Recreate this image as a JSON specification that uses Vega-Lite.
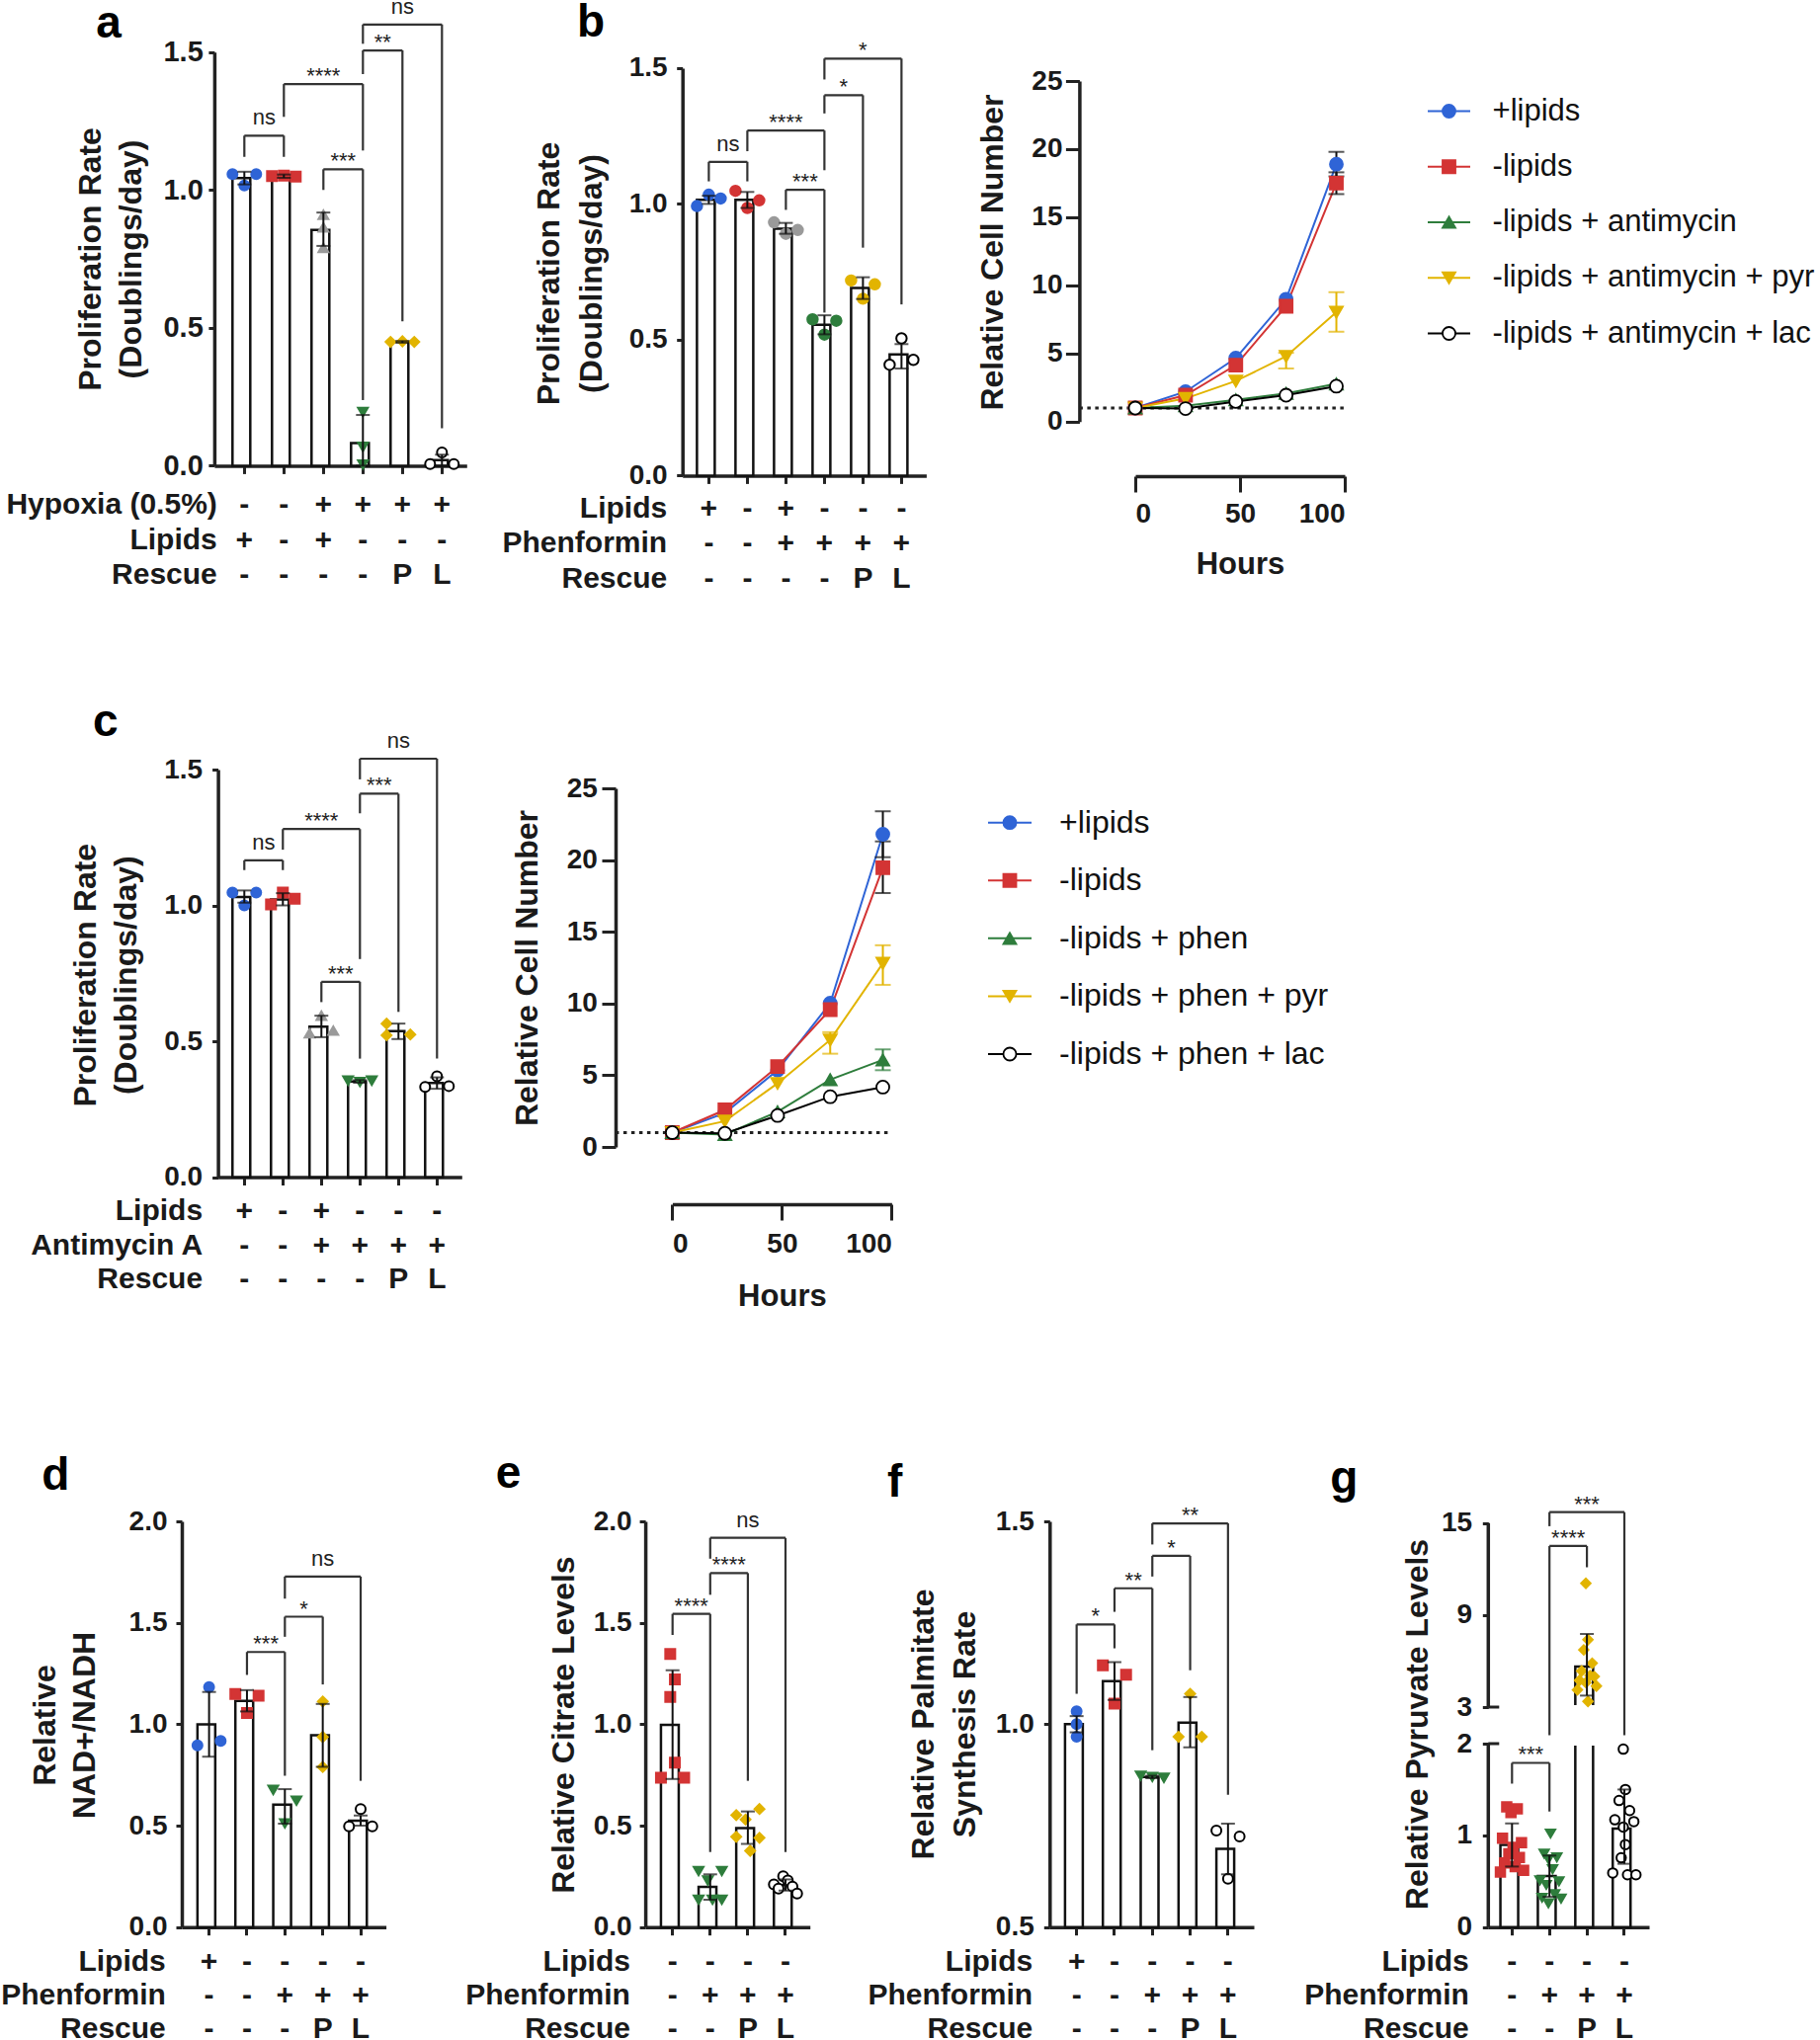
{
"$schema": "https://vega.github.io/schema/vega-lite/v6.json",
"padding": {"left": 0, "top": -5, "right": 0, "bottom": 0},
"background": "white",
"columns": 4,
"bounds": "flush",
"align": "each",
"spacing": {"row": 280, "column": 0},
"resolve": {"scale": {"color": "independent", "fill": "independent", "stroke": "independent", "shape": "independent", "xOffset": "independent"}},
"config": {
  "view": {"stroke": null},
  "font": "Liberation Sans",
  "axis": {"grid": false, "domainColor": "#222222", "domainWidth": 3.5, "tickColor": "#222222", "tickWidth": 3, "labelColor": "#1a1a1a", "titleColor": "#1a1a1a", "labelFontWeight": "bold", "titleFontWeight": "bold", "labelLimit": 0, "titleLimit": 0}
},
"datasets": {
  "a_bars": [
    {"grp": "- + -", "mean": 1.043, "lo": 1.02, "hi": 1.066},
    {"grp": "- - -", "mean": 1.05, "lo": 1.044, "hi": 1.056},
    {"grp": "+ + -", "mean": 0.855, "lo": 0.797, "hi": 0.918},
    {"grp": "+ - -", "mean": 0.082, "lo": 0, "hi": 0.184},
    {"grp": "+ - P", "mean": 0.449, "lo": 0.446, "hi": 0.452},
    {"grp": "+ - L", "mean": 0.02, "lo": 0, "hi": 0.04}
  ],
  "a_pts": [
    {"grp": "- + -", "rep": 1, "v": 1.057}, {"grp": "- + -", "rep": 2, "v": 1.016}, {"grp": "- + -", "rep": 3, "v": 1.057},
    {"grp": "- - -", "rep": 1, "v": 1.05}, {"grp": "- - -", "rep": 2, "v": 1.052}, {"grp": "- - -", "rep": 3, "v": 1.048},
    {"grp": "+ + -", "rep": 2, "v": 0.91}, {"grp": "+ + -", "rep": 2, "v": 0.864}, {"grp": "+ + -", "rep": 2, "v": 0.79},
    {"grp": "+ - -", "rep": 2, "v": 0.195}, {"grp": "+ - -", "rep": 2, "v": 0.068}, {"grp": "+ - -", "rep": 2, "v": 0.004},
    {"grp": "+ - P", "rep": 1, "v": 0.449}, {"grp": "+ - P", "rep": 2, "v": 0.451}, {"grp": "+ - P", "rep": 3, "v": 0.449},
    {"grp": "+ - L", "rep": 2, "v": 0.048}, {"grp": "+ - L", "rep": 1, "v": 0.006}, {"grp": "+ - L", "rep": 3, "v": 0.006}
  ],
  "a_br": [
    {"from": "- + -", "to": "- - -", "top": 1.197, "lf": 1.12, "rf": 1.12, "lab": "ns", "at": "- + -", "mid": 1},
    {"from": "- - -", "to": "+ - -", "top": 1.384, "lf": 1.265, "rf": 1.143, "lab": "****", "at": "+ + -", "mid": 0},
    {"from": "+ + -", "to": "+ - -", "top": 1.075, "lf": 1.0, "rf": 0.238, "lab": "***", "at": "+ + -", "mid": 1},
    {"from": "+ - -", "to": "+ - P", "top": 1.506, "lf": 1.42, "rf": 0.524, "lab": "**", "at": "+ - -", "mid": 1},
    {"from": "+ - -", "to": "+ - L", "top": 1.6, "lf": 1.53, "rf": 0.136, "lab": "ns", "at": "+ - P", "mid": 0}
  ],
  "b_bars": [
    {"grp": "+ - -", "mean": 1.015, "lo": 1.0, "hi": 1.03},
    {"grp": "- - -", "mean": 1.015, "lo": 0.985, "hi": 1.044},
    {"grp": "+ + -", "mean": 0.909, "lo": 0.89, "hi": 0.93},
    {"grp": "- + -", "mean": 0.555, "lo": 0.52, "hi": 0.59},
    {"grp": "- + P", "mean": 0.691, "lo": 0.65, "hi": 0.73},
    {"grp": "- + L", "mean": 0.446, "lo": 0.394, "hi": 0.484}
  ],
  "b_pts": [
    {"grp": "+ - -", "rep": 1, "v": 0.992}, {"grp": "+ - -", "rep": 2, "v": 1.034}, {"grp": "+ - -", "rep": 3, "v": 1.02},
    {"grp": "- - -", "rep": 1, "v": 1.048}, {"grp": "- - -", "rep": 2, "v": 0.985}, {"grp": "- - -", "rep": 3, "v": 1.013},
    {"grp": "+ + -", "rep": 1, "v": 0.932}, {"grp": "+ + -", "rep": 2, "v": 0.89}, {"grp": "+ + -", "rep": 3, "v": 0.904},
    {"grp": "- + -", "rep": 1, "v": 0.575}, {"grp": "- + -", "rep": 2, "v": 0.519}, {"grp": "- + -", "rep": 3, "v": 0.57},
    {"grp": "- + P", "rep": 1, "v": 0.718}, {"grp": "- + P", "rep": 2, "v": 0.651}, {"grp": "- + P", "rep": 3, "v": 0.704},
    {"grp": "- + L", "rep": 2, "v": 0.505}, {"grp": "- + L", "rep": 1, "v": 0.408}, {"grp": "- + L", "rep": 3, "v": 0.426}
  ],
  "b_br": [
    {"from": "+ - -", "to": "- - -", "top": 1.155, "lf": 1.083, "rf": 1.083, "lab": "ns", "at": "+ - -", "mid": 1},
    {"from": "- - -", "to": "- + -", "top": 1.27, "lf": 1.194, "rf": 1.124, "lab": "****", "at": "+ + -", "mid": 0},
    {"from": "+ + -", "to": "- + -", "top": 1.052, "lf": 0.978, "rf": 0.6, "lab": "***", "at": "+ + -", "mid": 1},
    {"from": "- + -", "to": "- + P", "top": 1.4, "lf": 1.333, "rf": 0.839, "lab": "*", "at": "- + -", "mid": 1},
    {"from": "- + -", "to": "- + L", "top": 1.535, "lf": 1.458, "rf": 0.63, "lab": "*", "at": "- + P", "mid": 0}
  ],
  "c_bars": [
    {"grp": "+ - -", "mean": 1.031, "lo": 1.01, "hi": 1.055},
    {"grp": "- - -", "mean": 1.022, "lo": 1.0, "hi": 1.045},
    {"grp": "+ + -", "mean": 0.554, "lo": 0.515, "hi": 0.594},
    {"grp": "- + -", "mean": 0.352, "lo": 0.347, "hi": 0.357},
    {"grp": "- + P", "mean": 0.537, "lo": 0.508, "hi": 0.565},
    {"grp": "- + L", "mean": 0.346, "lo": 0.325, "hi": 0.367}
  ],
  "c_pts": [
    {"grp": "+ - -", "rep": 1, "v": 1.047}, {"grp": "+ - -", "rep": 2, "v": 1.0}, {"grp": "+ - -", "rep": 3, "v": 1.047},
    {"grp": "- - -", "rep": 1, "v": 1.004}, {"grp": "- - -", "rep": 2, "v": 1.047}, {"grp": "- - -", "rep": 3, "v": 1.025},
    {"grp": "+ + -", "rep": 1, "v": 0.529}, {"grp": "+ + -", "rep": 2, "v": 0.594}, {"grp": "+ + -", "rep": 3, "v": 0.539},
    {"grp": "- + -", "rep": 1, "v": 0.355}, {"grp": "- + -", "rep": 2, "v": 0.35}, {"grp": "- + -", "rep": 3, "v": 0.355},
    {"grp": "- + P", "rep": 1, "v": 0.565}, {"grp": "- + P", "rep": 1, "v": 0.522}, {"grp": "- + P", "rep": 3, "v": 0.525},
    {"grp": "- + L", "rep": 1, "v": 0.332}, {"grp": "- + L", "rep": 2, "v": 0.371}, {"grp": "- + L", "rep": 3, "v": 0.335}
  ],
  "c_br": [
    {"from": "+ - -", "to": "- - -", "top": 1.166, "lf": 1.13, "rf": 1.13, "lab": "ns", "at": "+ - -", "mid": 1},
    {"from": "- - -", "to": "- + -", "top": 1.281, "lf": 1.205, "rf": 0.8025, "lab": "****", "at": "+ + -", "mid": 0},
    {"from": "+ + -", "to": "- + -", "top": 0.719, "lf": 0.644, "rf": 0.436, "lab": "***", "at": "+ + -", "mid": 1},
    {"from": "- + -", "to": "- + P", "top": 1.411, "lf": 1.339, "rf": 0.608, "lab": "***", "at": "- + -", "mid": 1},
    {"from": "- + -", "to": "- + L", "top": 1.54, "lf": 1.464, "rf": 0.436, "lab": "ns", "at": "- + P", "mid": 0}
  ],
  "d_bars": [
    {"grp": "+ - -", "mean": 0.999, "lo": 0.84, "hi": 1.159},
    {"grp": "- - -", "mean": 1.115, "lo": 1.063, "hi": 1.168},
    {"grp": "- + -", "mean": 0.603, "lo": 0.51, "hi": 0.68},
    {"grp": "- + P", "mean": 0.946, "lo": 0.79, "hi": 1.1},
    {"grp": "- + L", "mean": 0.525, "lo": 0.5, "hi": 0.55}
  ],
  "d_pts": [
    {"grp": "+ - -", "rep": 2, "v": 1.183}, {"grp": "+ - -", "rep": 1, "v": 0.896}, {"grp": "+ - -", "rep": 3, "v": 0.918},
    {"grp": "- - -", "rep": 1, "v": 1.149}, {"grp": "- - -", "rep": 3, "v": 1.14}, {"grp": "- - -", "rep": 2, "v": 1.055},
    {"grp": "- + -", "rep": 1, "v": 0.676}, {"grp": "- + -", "rep": 3, "v": 0.623}, {"grp": "- + -", "rep": 2, "v": 0.511},
    {"grp": "- + P", "rep": 2, "v": 1.112}, {"grp": "- + P", "rep": 2, "v": 0.937}, {"grp": "- + P", "rep": 2, "v": 0.789},
    {"grp": "- + L", "rep": 2, "v": 0.582}, {"grp": "- + L", "rep": 1, "v": 0.496}, {"grp": "- + L", "rep": 3, "v": 0.496}
  ],
  "d_br": [
    {"from": "- - -", "to": "- + -", "top": 1.356, "lf": 1.243, "rf": 0.746, "lab": "***", "at": "- - -", "mid": 1},
    {"from": "- + -", "to": "- + P", "top": 1.53, "lf": 1.431, "rf": 1.196, "lab": "*", "at": "- + -", "mid": 1},
    {"from": "- + -", "to": "- + L", "top": 1.728, "lf": 1.619, "rf": 0.721, "lab": "ns", "at": "- + P", "mid": 0}
  ],
  "e_bars": [
    {"grp": "- - -", "mean": 0.997, "lo": 0.73, "hi": 1.266},
    {"grp": "- + -", "mean": 0.198, "lo": 0.135, "hi": 0.26},
    {"grp": "- + P", "mean": 0.4875, "lo": 0.41, "hi": 0.57},
    {"grp": "- + L", "mean": 0.207, "lo": 0.18, "hi": 0.235}
  ],
  "e_pts": [
    {"grp": "- - -", "rep": 3, "v": 1.346}, {"grp": "- - -", "rep": 4, "v": 1.221}, {"grp": "- - -", "rep": 3, "v": 1.134},
    {"grp": "- - -", "rep": 4, "v": 0.811}, {"grp": "- - -", "rep": 1, "v": 0.736}, {"grp": "- - -", "rep": 6, "v": 0.736},
    {"grp": "- + -", "rep": 1, "v": 0.276}, {"grp": "- + -", "rep": 6, "v": 0.276}, {"grp": "- + -", "rep": 3, "v": 0.229},
    {"grp": "- + -", "rep": 1, "v": 0.135}, {"grp": "- + -", "rep": 4, "v": 0.135}, {"grp": "- + -", "rep": 6, "v": 0.135},
    {"grp": "- + P", "rep": 6, "v": 0.582}, {"grp": "- + P", "rep": 1, "v": 0.552}, {"grp": "- + P", "rep": 3, "v": 0.53},
    {"grp": "- + P", "rep": 1, "v": 0.445}, {"grp": "- + P", "rep": 6, "v": 0.44}, {"grp": "- + P", "rep": 4, "v": 0.376},
    {"grp": "- + L", "rep": 3, "v": 0.25}, {"grp": "- + L", "rep": 4, "v": 0.23}, {"grp": "- + L", "rep": 1, "v": 0.21},
    {"grp": "- + L", "rep": 5, "v": 0.2}, {"grp": "- + L", "rep": 2, "v": 0.19}, {"grp": "- + L", "rep": 6, "v": 0.165}
  ],
  "e_br": [
    {"from": "- - -", "to": "- + -", "top": 1.544, "lf": 1.44, "rf": 0.37, "lab": "****", "at": "- - -", "mid": 1},
    {"from": "- + -", "to": "- + P", "top": 1.745, "lf": 1.638, "rf": 0.721, "lab": "****", "at": "- + -", "mid": 1},
    {"from": "- + -", "to": "- + L", "top": 1.919, "lf": 1.816, "rf": 0.37, "lab": "ns", "at": "- + P", "mid": 0}
  ],
  "f_bars": [
    {"grp": "+ - -", "mean": 1.0, "lo": 0.98, "hi": 1.02},
    {"grp": "- - -", "mean": 1.106, "lo": 1.06, "hi": 1.153},
    {"grp": "- + -", "mean": 0.87, "lo": 0.867, "hi": 0.873},
    {"grp": "- + P", "mean": 1.004, "lo": 0.943, "hi": 1.067},
    {"grp": "- + L", "mean": 0.693, "lo": 0.63, "hi": 0.755}
  ],
  "f_pts": [
    {"grp": "+ - -", "rep": 2, "v": 1.032}, {"grp": "+ - -", "rep": 2, "v": 1.0}, {"grp": "+ - -", "rep": 2, "v": 0.969},
    {"grp": "- - -", "rep": 1, "v": 1.145}, {"grp": "- - -", "rep": 3, "v": 1.122}, {"grp": "- - -", "rep": 2, "v": 1.051},
    {"grp": "- + -", "rep": 1, "v": 0.873}, {"grp": "- + -", "rep": 2, "v": 0.87}, {"grp": "- + -", "rep": 3, "v": 0.868},
    {"grp": "- + P", "rep": 2, "v": 1.075}, {"grp": "- + P", "rep": 1, "v": 0.969}, {"grp": "- + P", "rep": 3, "v": 0.969},
    {"grp": "- + L", "rep": 1, "v": 0.738}, {"grp": "- + L", "rep": 3, "v": 0.723}, {"grp": "- + L", "rep": 2, "v": 0.619}
  ],
  "f_br": [
    {"from": "+ - -", "to": "- - -", "top": 1.246, "lf": 1.075, "rf": 1.187, "lab": "*", "at": "+ - -", "mid": 1},
    {"from": "- - -", "to": "- + -", "top": 1.335, "lf": 1.277, "rf": 0.936, "lab": "**", "at": "- - -", "mid": 1},
    {"from": "- + -", "to": "- + P", "top": 1.415, "lf": 1.364, "rf": 1.133, "lab": "*", "at": "- + -", "mid": 1},
    {"from": "- + -", "to": "- + L", "top": 1.495, "lf": 1.443, "rf": 0.826, "lab": "**", "at": "- + P", "mid": 0}
  ],
  "g_bars": [
    {"grp": "- - -", "mean": 0.896, "lo": 0.66, "hi": 1.13},
    {"grp": "- + -", "mean": 0.556, "lo": 0.33, "hi": 0.78},
    {"grp": "- + P", "mean": 5.64, "lo": 3.75, "hi": 7.77},
    {"grp": "- + L", "mean": 1.074, "lo": 0.69, "hi": 1.5}
  ],
  "g_pts": [
    {"grp": "- - -", "rep": 4, "v": 1.31}, {"grp": "- - -", "rep": 9, "v": 1.29}, {"grp": "- - -", "rep": 6, "v": 1.25},
    {"grp": "- - -", "rep": 2, "v": 0.97}, {"grp": "- - -", "rep": 11, "v": 0.92}, {"grp": "- - -", "rep": 7, "v": 0.87},
    {"grp": "- - -", "rep": 5, "v": 0.8}, {"grp": "- - -", "rep": 10, "v": 0.76}, {"grp": "- - -", "rep": 3, "v": 0.7},
    {"grp": "- - -", "rep": 8, "v": 0.66}, {"grp": "- - -", "rep": 12, "v": 0.62}, {"grp": "- - -", "rep": 1, "v": 0.6},
    {"grp": "- + -", "rep": 7, "v": 1.02}, {"grp": "- + -", "rep": 4, "v": 0.8}, {"grp": "- + -", "rep": 10, "v": 0.76},
    {"grp": "- + -", "rep": 6, "v": 0.74}, {"grp": "- + -", "rep": 8, "v": 0.63}, {"grp": "- + -", "rep": 2, "v": 0.51},
    {"grp": "- + -", "rep": 11, "v": 0.5}, {"grp": "- + -", "rep": 5, "v": 0.46}, {"grp": "- + -", "rep": 9, "v": 0.36},
    {"grp": "- + -", "rep": 3, "v": 0.32}, {"grp": "- + -", "rep": 12, "v": 0.31}, {"grp": "- + -", "rep": 6, "v": 0.26},
    {"grp": "- + P", "rep": 6, "v": 11.07}, {"grp": "- + P", "rep": 7, "v": 7.4}, {"grp": "- + P", "rep": 5, "v": 6.73},
    {"grp": "- + P", "rep": 9, "v": 5.86}, {"grp": "- + P", "rep": 4, "v": 5.36}, {"grp": "- + P", "rep": 8, "v": 5.06},
    {"grp": "- + P", "rep": 10, "v": 4.99}, {"grp": "- + P", "rep": 3, "v": 4.74}, {"grp": "- + P", "rep": 6, "v": 4.6},
    {"grp": "- + P", "rep": 11, "v": 4.37}, {"grp": "- + P", "rep": 2, "v": 4.12}, {"grp": "- + P", "rep": 7, "v": 3.37},
    {"grp": "- + L", "rep": 6, "v": 1.94}, {"grp": "- + L", "rep": 7, "v": 1.5}, {"grp": "- + L", "rep": 4, "v": 1.38},
    {"grp": "- + L", "rep": 9, "v": 1.27}, {"grp": "- + L", "rep": 2, "v": 1.17}, {"grp": "- + L", "rep": 11, "v": 1.15},
    {"grp": "- + L", "rep": 6, "v": 1.09}, {"grp": "- + L", "rep": 7, "v": 0.9}, {"grp": "- + L", "rep": 5, "v": 0.755},
    {"grp": "- + L", "rep": 1, "v": 0.59}, {"grp": "- + L", "rep": 8, "v": 0.57}, {"grp": "- + L", "rep": 12, "v": 0.57}
  ],
  "g_br": [
    {"from": "- - -", "to": "- + -", "top": 1.79, "lf": 1.564, "rf": 1.26, "lab": "***", "at": "- - -", "mid": 1},
    {"from": "- + -", "to": "- + P", "top": 13.51, "lf": 2.23, "rf": 12.12, "lab": "****", "at": "- + -", "mid": 1},
    {"from": "- + -", "to": "- + L", "top": 15.72, "lf": 14.8, "rf": 2.23, "lab": "***", "at": "- + P", "mid": 0}
  ],
  "bl": [
    {"s": "+lipids", "h": 0, "v": 1.0}, {"s": "+lipids", "h": 24, "v": 2.2}, {"s": "+lipids", "h": 48, "v": 4.66}, {"s": "+lipids", "h": 72, "v": 8.99}, {"s": "+lipids", "h": 96, "v": 18.9},
    {"s": "-lipids", "h": 0, "v": 1.0}, {"s": "-lipids", "h": 24, "v": 1.94}, {"s": "-lipids", "h": 48, "v": 4.15}, {"s": "-lipids", "h": 72, "v": 8.47}, {"s": "-lipids", "h": 96, "v": 17.5},
    {"s": "-lipids + antimycin", "h": 0, "v": 1.0}, {"s": "-lipids + antimycin", "h": 24, "v": 1.17}, {"s": "-lipids + antimycin", "h": 48, "v": 1.6}, {"s": "-lipids + antimycin", "h": 72, "v": 2.07}, {"s": "-lipids + antimycin", "h": 96, "v": 2.77},
    {"s": "-lipids + antimycin + pyr", "h": 0, "v": 1.0}, {"s": "-lipids + antimycin + pyr", "h": 24, "v": 1.7}, {"s": "-lipids + antimycin + pyr", "h": 48, "v": 2.98}, {"s": "-lipids + antimycin + pyr", "h": 72, "v": 4.79}, {"s": "-lipids + antimycin + pyr", "h": 96, "v": 8.03},
    {"s": "-lipids + antimycin + lac", "h": 0, "v": 1.0}, {"s": "-lipids + antimycin + lac", "h": 24, "v": 0.96}, {"s": "-lipids + antimycin + lac", "h": 48, "v": 1.48}, {"s": "-lipids + antimycin + lac", "h": 72, "v": 1.94}, {"s": "-lipids + antimycin + lac", "h": 96, "v": 2.6}
  ],
  "be": [
    {"s": "+lipids", "h": 96, "lo": 18.0, "hi": 19.8},
    {"s": "-lipids", "h": 96, "lo": 16.7, "hi": 18.3},
    {"s": "-lipids + antimycin + pyr", "h": 72, "lo": 3.9, "hi": 5.05},
    {"s": "-lipids + antimycin + pyr", "h": 96, "lo": 6.6, "hi": 9.5}
  ],
  "legb": [
    {"s": "+lipids"}, {"s": "-lipids"}, {"s": "-lipids + antimycin"}, {"s": "-lipids + antimycin + pyr"}, {"s": "-lipids + antimycin + lac"}
  ],
  "cl": [
    {"s": "+lipids", "h": 0, "v": 1.0}, {"s": "+lipids", "h": 24, "v": 2.37}, {"s": "+lipids", "h": 48, "v": 5.35}, {"s": "+lipids", "h": 72, "v": 10.02}, {"s": "+lipids", "h": 96, "v": 21.8},
    {"s": "-lipids", "h": 0, "v": 1.0}, {"s": "-lipids", "h": 24, "v": 2.58}, {"s": "-lipids", "h": 48, "v": 5.6}, {"s": "-lipids", "h": 72, "v": 9.57}, {"s": "-lipids", "h": 96, "v": 19.46},
    {"s": "-lipids + phen", "h": 0, "v": 1.0}, {"s": "-lipids + phen", "h": 24, "v": 0.87}, {"s": "-lipids + phen", "h": 48, "v": 2.45}, {"s": "-lipids + phen", "h": 72, "v": 4.69}, {"s": "-lipids + phen", "h": 96, "v": 6.07},
    {"s": "-lipids + phen + pyr", "h": 0, "v": 1.0}, {"s": "-lipids + phen + pyr", "h": 24, "v": 1.8}, {"s": "-lipids + phen + pyr", "h": 48, "v": 4.43}, {"s": "-lipids + phen + pyr", "h": 72, "v": 7.46}, {"s": "-lipids + phen + pyr", "h": 96, "v": 12.8},
    {"s": "-lipids + phen + lac", "h": 0, "v": 1.0}, {"s": "-lipids + phen + lac", "h": 24, "v": 0.95}, {"s": "-lipids + phen + lac", "h": 48, "v": 2.19}, {"s": "-lipids + phen + lac", "h": 72, "v": 3.5}, {"s": "-lipids + phen + lac", "h": 96, "v": 4.17}
  ],
  "ce": [
    {"s": "+lipids", "h": 96, "lo": 20.2, "hi": 23.4},
    {"s": "-lipids", "h": 96, "lo": 17.7, "hi": 21.3},
    {"s": "-lipids + phen", "h": 96, "lo": 5.35, "hi": 6.8},
    {"s": "-lipids + phen + pyr", "h": 72, "lo": 6.5, "hi": 8.0},
    {"s": "-lipids + phen + pyr", "h": 96, "lo": 11.3, "hi": 14.06}
  ],
  "legc": [
    {"s": "+lipids"}, {"s": "-lipids"}, {"s": "-lipids + phen"}, {"s": "-lipids + phen + pyr"}, {"s": "-lipids + phen + lac"}
  ]
},
"concat": [
{
  "width": 438.9, "height": 421.4,
  "title": {"text": "a", "anchor": "start", "frame": "group", "dx": -86.7, "offset": -88.5, "fontSize": 46, "fontWeight": "bold", "baseline": "alphabetic", "color": "#000000"},
  "layer": [
    {"data": {"name": "a_bars"}, "mark": {"type": "bar", "fill": "#ffffff", "stroke": "#111111", "strokeWidth": 2.5},
     "encoding": {
       "x": {"field": "grp", "type": "nominal", "scale": {"domain": ["- + -", "- - -", "+ + -", "+ - -", "+ - P", "+ - L"], "range": [32.9, 288.3], "paddingInner": 0.4, "paddingOuter": 0.3925, "align": 0.586},
             "axis": {"title": ["Hypoxia (0.5%)", "Lipids", "Rescue"], "labelExpr": "split(datum.label, ' ')", "labelAngle": 0, "labelFontSize": 30, "labelLineHeight": 35.5, "labelPadding": 16.4, "tickSize": 8, "titleX": 35.3, "titleY": 24.4, "titleAlign": "right", "titleBaseline": "top", "titleAngle": 0, "titleFontSize": 30, "titleLineHeight": 35.5}},
       "y": {"field": "mean", "type": "quantitative", "scale": {"domain": [0, 1.5], "range": [421.4, 2.7], "nice": false, "zero": false},
             "axis": {"offset": -32.9, "values": [0, 0.5, 1, 1.5], "format": ".1f", "labelFontSize": 29, "tickSize": 6, "labelPadding": 5.6, "title": ["Proliferation Rate", "(Doublings/day)"], "titleFontSize": 32, "titleLineHeight": 41, "titleX": -125.5, "titleY": 212, "titleBaseline": "middle", "titleAlign": "center", "titleAngle": -90}}}},
    {"data": {"name": "a_pts"}, "mark": {"type": "point", "size": 100, "strokeWidth": 2, "opacity": 1},
     "encoding": {
       "x": {"field": "grp", "type": "nominal", "scale": {"domain": ["- + -", "- - -", "+ + -", "+ - -", "+ - P", "+ - L"]}},
       "xOffset": {"field": "rep", "type": "nominal", "scale": {"domain": [1, 2, 3], "paddingInner": 0, "paddingOuter": 0}},
       "y": {"field": "v", "type": "quantitative", "scale": {"domain": [0, 1.5], "range": [421.4, 2.7], "nice": false, "zero": false}},
       "fill": {"field": "grp", "type": "nominal", "scale": {"domain": ["- + -", "- - -", "+ + -", "+ - -", "+ - P", "+ - L"], "range": ["#2f64d6", "#d33434", "#9a9a9a", "#2e7d3c", "#e2b400", "#ffffff"]}, "legend": null},
       "stroke": {"field": "grp", "type": "nominal", "scale": {"domain": ["- + -", "- - -", "+ + -", "+ - -", "+ - P", "+ - L"], "range": ["#2f64d6", "#d33434", "#9a9a9a", "#2e7d3c", "#e2b400", "#000000"]}, "legend": null},
       "shape": {"field": "grp", "type": "nominal", "scale": {"domain": ["- + -", "- - -", "+ + -", "+ - -", "+ - P", "+ - L"], "range": ["circle", "square", "triangle-up", "triangle-down", "diamond", "circle"]}, "legend": null}}},
    {"data": {"name": "a_bars"}, "mark": {"type": "rule", "color": "#111111", "strokeWidth": 2},
     "encoding": {"x": {"field": "grp", "type": "nominal", "scale": {"domain": ["- + -", "- - -", "+ + -", "+ - -", "+ - P", "+ - L"]}}, "y": {"field": "lo", "type": "quantitative", "scale": {"domain": [0, 1.5], "range": [421.4, 2.7], "nice": false, "zero": false}}, "y2": {"field": "hi"}}},
    {"data": {"name": "a_bars"}, "mark": {"type": "tick", "orient": "horizontal", "size": 14, "thickness": 2, "color": "#111111"},
     "encoding": {"x": {"field": "grp", "type": "nominal", "scale": {"domain": ["- + -", "- - -", "+ + -", "+ - -", "+ - P", "+ - L"]}}, "y": {"field": "lo", "type": "quantitative", "scale": {"domain": [0, 1.5], "range": [421.4, 2.7], "nice": false, "zero": false}}}},
    {"data": {"name": "a_bars"}, "mark": {"type": "tick", "orient": "horizontal", "size": 14, "thickness": 2, "color": "#111111"},
     "encoding": {"x": {"field": "grp", "type": "nominal", "scale": {"domain": ["- + -", "- - -", "+ + -", "+ - -", "+ - P", "+ - L"]}}, "y": {"field": "hi", "type": "quantitative", "scale": {"domain": [0, 1.5], "range": [421.4, 2.7], "nice": false, "zero": false}}}},
    {"data": {"name": "a_br"}, "mark": {"type": "rule", "color": "#333333", "strokeWidth": 2.2},
     "encoding": {"x": {"field": "from", "type": "nominal", "scale": {"domain": ["- + -", "- - -", "+ + -", "+ - -", "+ - P", "+ - L"]}}, "x2": {"field": "to"}, "y": {"field": "top", "type": "quantitative", "scale": {"domain": [0, 1.5], "range": [421.4, 2.7], "nice": false, "zero": false}}}},
    {"data": {"name": "a_br"}, "mark": {"type": "rule", "color": "#333333", "strokeWidth": 2.2},
     "encoding": {"x": {"field": "from", "type": "nominal", "scale": {"domain": ["- + -", "- - -", "+ + -", "+ - -", "+ - P", "+ - L"]}}, "y": {"field": "top", "type": "quantitative", "scale": {"domain": [0, 1.5], "range": [421.4, 2.7], "nice": false, "zero": false}}, "y2": {"field": "lf"}}},
    {"data": {"name": "a_br"}, "mark": {"type": "rule", "color": "#333333", "strokeWidth": 2.2},
     "encoding": {"x": {"field": "to", "type": "nominal", "scale": {"domain": ["- + -", "- - -", "+ + -", "+ - -", "+ - P", "+ - L"]}}, "y": {"field": "top", "type": "quantitative", "scale": {"domain": [0, 1.5], "range": [421.4, 2.7], "nice": false, "zero": false}}, "y2": {"field": "rf"}}},
    {"data": {"name": "a_br"}, "mark": {"type": "text", "fontSize": 22, "baseline": "alphabetic", "align": "center", "color": "#222222", "dx": {"expr": "datum.mid * 20"}, "dy": {"expr": "datum.lab == 'ns' ? -11 : -1"}},
     "encoding": {"x": {"field": "at", "type": "nominal", "scale": {"domain": ["- + -", "- - -", "+ + -", "+ - -", "+ - P", "+ - L"]}}, "y": {"field": "top", "type": "quantitative", "scale": {"domain": [0, 1.5], "range": [421.4, 2.7], "nice": false, "zero": false}}, "text": {"field": "lab"}}}
  ]
},
{
  "width": 376.4, "height": 431.4,
  "title": {"text": "b", "anchor": "start", "frame": "group", "dx": -38.9, "offset": -42.4, "fontSize": 46, "fontWeight": "bold", "baseline": "alphabetic", "color": "#000000"},
  "layer": [
    {"data": {"name": "b_bars"}, "mark": {"type": "bar", "fill": "#ffffff", "stroke": "#111111", "strokeWidth": 2.5},
     "encoding": {
       "x": {"field": "grp", "type": "nominal", "scale": {"domain": ["+ - -", "- - -", "+ + -", "- + -", "- + P", "- + L"], "range": [67.7, 314.4], "paddingInner": 0.3846, "paddingOuter": 0.355, "align": 0.53},
             "axis": {"title": ["Lipids", "Phenformin", "Rescue"], "labelExpr": "split(datum.label, ' ')", "labelAngle": 0, "labelFontSize": 30, "labelLineHeight": 35.4, "labelPadding": 10.2, "tickSize": 8, "titleX": 51.7, "titleY": 18.2, "titleAlign": "right", "titleBaseline": "top", "titleAngle": 0, "titleFontSize": 30, "titleLineHeight": 35.4}},
       "y": {"field": "mean", "type": "quantitative", "scale": {"domain": [0, 1.5], "range": [431.4, 18.9], "nice": false, "zero": false},
             "axis": {"offset": -67.7, "values": [0, 0.5, 1, 1.5], "format": ".1f", "labelFontSize": 28, "tickSize": 6, "labelPadding": 9.6, "title": ["Proliferation Rate", "(Doublings/day)"], "titleFontSize": 32, "titleLineHeight": 43, "titleX": -135.3, "titleY": 226.5, "titleBaseline": "middle", "titleAlign": "center", "titleAngle": -90}}}},
    {"data": {"name": "b_pts"}, "mark": {"type": "point", "size": 110, "strokeWidth": 2, "opacity": 1},
     "encoding": {
       "x": {"field": "grp", "type": "nominal", "scale": {"domain": ["+ - -", "- - -", "+ + -", "- + -", "- + P", "- + L"]}},
       "xOffset": {"field": "rep", "type": "nominal", "scale": {"domain": [1, 2, 3], "paddingInner": 0, "paddingOuter": 0}},
       "y": {"field": "v", "type": "quantitative", "scale": {"domain": [0, 1.5], "range": [431.4, 18.9], "nice": false, "zero": false}},
       "fill": {"field": "grp", "type": "nominal", "scale": {"domain": ["+ - -", "- - -", "+ + -", "- + -", "- + P", "- + L"], "range": ["#2f64d6", "#d33434", "#9a9a9a", "#2e7d3c", "#e2b400", "#ffffff"]}, "legend": null},
       "stroke": {"field": "grp", "type": "nominal", "scale": {"domain": ["+ - -", "- - -", "+ + -", "- + -", "- + P", "- + L"], "range": ["#2f64d6", "#d33434", "#9a9a9a", "#2e7d3c", "#e2b400", "#000000"]}, "legend": null},
       "shape": {"value": "circle"}}},
    {"data": {"name": "b_bars"}, "mark": {"type": "rule", "color": "#111111", "strokeWidth": 2},
     "encoding": {"x": {"field": "grp", "type": "nominal", "scale": {"domain": ["+ - -", "- - -", "+ + -", "- + -", "- + P", "- + L"]}}, "y": {"field": "lo", "type": "quantitative", "scale": {"domain": [0, 1.5], "range": [431.4, 18.9], "nice": false, "zero": false}}, "y2": {"field": "hi"}}},
    {"data": {"name": "b_bars"}, "mark": {"type": "tick", "orient": "horizontal", "size": 14, "thickness": 2, "color": "#111111"},
     "encoding": {"x": {"field": "grp", "type": "nominal", "scale": {"domain": ["+ - -", "- - -", "+ + -", "- + -", "- + P", "- + L"]}}, "y": {"field": "lo", "type": "quantitative", "scale": {"domain": [0, 1.5], "range": [431.4, 18.9], "nice": false, "zero": false}}}},
    {"data": {"name": "b_bars"}, "mark": {"type": "tick", "orient": "horizontal", "size": 14, "thickness": 2, "color": "#111111"},
     "encoding": {"x": {"field": "grp", "type": "nominal", "scale": {"domain": ["+ - -", "- - -", "+ + -", "- + -", "- + P", "- + L"]}}, "y": {"field": "hi", "type": "quantitative", "scale": {"domain": [0, 1.5], "range": [431.4, 18.9], "nice": false, "zero": false}}}},
    {"data": {"name": "b_br"}, "mark": {"type": "rule", "color": "#333333", "strokeWidth": 2.2},
     "encoding": {"x": {"field": "from", "type": "nominal", "scale": {"domain": ["+ - -", "- - -", "+ + -", "- + -", "- + P", "- + L"]}}, "x2": {"field": "to"}, "y": {"field": "top", "type": "quantitative", "scale": {"domain": [0, 1.5], "range": [431.4, 18.9], "nice": false, "zero": false}}}},
    {"data": {"name": "b_br"}, "mark": {"type": "rule", "color": "#333333", "strokeWidth": 2.2},
     "encoding": {"x": {"field": "from", "type": "nominal", "scale": {"domain": ["+ - -", "- - -", "+ + -", "- + -", "- + P", "- + L"]}}, "y": {"field": "top", "type": "quantitative", "scale": {"domain": [0, 1.5], "range": [431.4, 18.9], "nice": false, "zero": false}}, "y2": {"field": "lf"}}},
    {"data": {"name": "b_br"}, "mark": {"type": "rule", "color": "#333333", "strokeWidth": 2.2},
     "encoding": {"x": {"field": "to", "type": "nominal", "scale": {"domain": ["+ - -", "- - -", "+ + -", "- + -", "- + P", "- + L"]}}, "y": {"field": "top", "type": "quantitative", "scale": {"domain": [0, 1.5], "range": [431.4, 18.9], "nice": false, "zero": false}}, "y2": {"field": "rf"}}},
    {"data": {"name": "b_br"}, "mark": {"type": "text", "fontSize": 22, "baseline": "alphabetic", "align": "center", "color": "#222222", "dx": {"expr": "datum.mid * 19.5"}, "dy": {"expr": "datum.lab == 'ns' ? -11 : -1"}},
     "encoding": {"x": {"field": "at", "type": "nominal", "scale": {"domain": ["+ - -", "- - -", "+ + -", "- + -", "- + P", "- + L"]}}, "y": {"field": "top", "type": "quantitative", "scale": {"domain": [0, 1.5], "range": [431.4, 18.9], "nice": false, "zero": false}}, "text": {"field": "lab"}}}
  ]
},
{
  "width": 445, "height": 432,
  "layer": [
    {"data": {"values": [{}]}, "mark": {"type": "rule", "strokeDash": [3.5, 4.5], "strokeWidth": 3, "color": "#222222"},
     "encoding": {"x": {"datum": -26.7, "type": "quantitative", "scale": {"domain": [0, 100], "range": [149, 361], "nice": false, "zero": false}}, "x2": {"datum": 100}, "y": {"datum": 1, "type": "quantitative", "scale": {"domain": [0, 25], "range": [376.8, 32], "nice": false, "zero": false}}}},
    {"data": {"name": "bl"}, "mark": {"type": "line", "strokeWidth": 2},
     "encoding": {
       "x": {"field": "h", "type": "quantitative", "scale": {"domain": [0, 100], "range": [149, 361], "nice": false, "zero": false},
             "axis": {"values": [0, 50, 100], "format": "d", "labelFontSize": 28, "tickSize": 16, "labelPadding": 8, "title": "Hours", "titleFontSize": 31, "titleX": 255, "titleY": 74.5, "titleBaseline": "top", "titleAlign": "center", "titleAngle": 0}},
       "y": {"field": "v", "type": "quantitative", "scale": {"domain": [0, 25], "range": [376.8, 32], "nice": false, "zero": false},
             "axis": {"offset": -92.4, "values": [0, 5, 10, 15, 20, 25], "format": "d", "labelFontSize": 28, "tickSize": 14, "labelPadding": 3.4, "title": "Relative Cell Number", "titleFontSize": 32, "titleX": -88.4, "titleY": 205, "titleBaseline": "middle", "titleAlign": "center", "titleAngle": -90}},
       "color": {"field": "s", "type": "nominal", "scale": {"domain": ["+lipids", "-lipids", "-lipids + antimycin", "-lipids + antimycin + pyr", "-lipids + antimycin + lac"], "range": ["#2f64d6", "#d33434", "#2e7d3c", "#e2b400", "#000000"]}, "legend": null}}},
    {"data": {"name": "be"}, "transform": [{"filter": "datum.s == '+lipids' || datum.s == '-lipids'"}], "mark": {"type": "rule", "color": "#111111", "strokeWidth": 2},
     "encoding": {"x": {"field": "h", "type": "quantitative", "scale": {"domain": [0, 100], "range": [149, 361], "nice": false, "zero": false}}, "y": {"field": "lo", "type": "quantitative", "scale": {"domain": [0, 25], "range": [376.8, 32], "nice": false, "zero": false}}, "y2": {"field": "hi"}}},
    {"data": {"name": "be"}, "transform": [{"filter": "datum.s == '+lipids' || datum.s == '-lipids'"}], "mark": {"type": "tick", "orient": "horizontal", "size": 16, "thickness": 2, "color": "#111111"},
     "encoding": {"x": {"field": "h", "type": "quantitative", "scale": {"domain": [0, 100], "range": [149, 361], "nice": false, "zero": false}}, "y": {"field": "lo", "type": "quantitative", "scale": {"domain": [0, 25], "range": [376.8, 32], "nice": false, "zero": false}}}},
    {"data": {"name": "be"}, "transform": [{"filter": "datum.s == '+lipids' || datum.s == '-lipids'"}], "mark": {"type": "tick", "orient": "horizontal", "size": 16, "thickness": 2, "color": "#111111"},
     "encoding": {"x": {"field": "h", "type": "quantitative", "scale": {"domain": [0, 100], "range": [149, 361], "nice": false, "zero": false}}, "y": {"field": "hi", "type": "quantitative", "scale": {"domain": [0, 25], "range": [376.8, 32], "nice": false, "zero": false}}}},
    {"data": {"name": "be"}, "transform": [{"filter": "datum.s != '+lipids' && datum.s != '-lipids'"}], "mark": {"type": "rule", "strokeWidth": 2},
     "encoding": {"x": {"field": "h", "type": "quantitative", "scale": {"domain": [0, 100], "range": [149, 361], "nice": false, "zero": false}}, "y": {"field": "lo", "type": "quantitative", "scale": {"domain": [0, 25], "range": [376.8, 32], "nice": false, "zero": false}}, "y2": {"field": "hi"},
       "color": {"field": "s", "type": "nominal", "scale": {"domain": ["+lipids", "-lipids", "-lipids + antimycin", "-lipids + antimycin + pyr", "-lipids + antimycin + lac"], "range": ["#2f64d6", "#d33434", "#2e7d3c", "#e2b400", "#000000"]}, "legend": null}}},
    {"data": {"name": "be"}, "transform": [{"filter": "datum.s != '+lipids' && datum.s != '-lipids'"}], "mark": {"type": "tick", "orient": "horizontal", "size": 16, "thickness": 2},
     "encoding": {"x": {"field": "h", "type": "quantitative", "scale": {"domain": [0, 100], "range": [149, 361], "nice": false, "zero": false}}, "y": {"field": "lo", "type": "quantitative", "scale": {"domain": [0, 25], "range": [376.8, 32], "nice": false, "zero": false}},
       "color": {"field": "s", "type": "nominal", "scale": {"domain": ["+lipids", "-lipids", "-lipids + antimycin", "-lipids + antimycin + pyr", "-lipids + antimycin + lac"], "range": ["#2f64d6", "#d33434", "#2e7d3c", "#e2b400", "#000000"]}, "legend": null}}},
    {"data": {"name": "be"}, "transform": [{"filter": "datum.s != '+lipids' && datum.s != '-lipids'"}], "mark": {"type": "tick", "orient": "horizontal", "size": 16, "thickness": 2},
     "encoding": {"x": {"field": "h", "type": "quantitative", "scale": {"domain": [0, 100], "range": [149, 361], "nice": false, "zero": false}}, "y": {"field": "hi", "type": "quantitative", "scale": {"domain": [0, 25], "range": [376.8, 32], "nice": false, "zero": false}},
       "color": {"field": "s", "type": "nominal", "scale": {"domain": ["+lipids", "-lipids", "-lipids + antimycin", "-lipids + antimycin + pyr", "-lipids + antimycin + lac"], "range": ["#2f64d6", "#d33434", "#2e7d3c", "#e2b400", "#000000"]}, "legend": null}}},
    {"data": {"name": "bl"}, "mark": {"type": "point", "size": 170, "strokeWidth": 1.8, "opacity": 1},
     "encoding": {
       "x": {"field": "h", "type": "quantitative", "scale": {"domain": [0, 100], "range": [149, 361], "nice": false, "zero": false}},
       "y": {"field": "v", "type": "quantitative", "scale": {"domain": [0, 25], "range": [376.8, 32], "nice": false, "zero": false}},
       "fill": {"field": "s", "type": "nominal", "scale": {"domain": ["+lipids", "-lipids", "-lipids + antimycin", "-lipids + antimycin + pyr", "-lipids + antimycin + lac"], "range": ["#2f64d6", "#d33434", "#2e7d3c", "#e2b400", "#ffffff"]}, "legend": null},
       "stroke": {"field": "s", "type": "nominal", "scale": {"domain": ["+lipids", "-lipids", "-lipids + antimycin", "-lipids + antimycin + pyr", "-lipids + antimycin + lac"], "range": ["#2f64d6", "#d33434", "#2e7d3c", "#e2b400", "#000000"]}, "legend": null},
       "shape": {"field": "s", "type": "nominal", "scale": {"domain": ["+lipids", "-lipids", "-lipids + antimycin", "-lipids + antimycin + pyr", "-lipids + antimycin + lac"], "range": ["circle", "square", "triangle-up", "triangle-down", "circle"]}, "legend": null}}}
  ]
},
{
  "width": 400, "height": 300,
  "data": {"name": "legb"},
  "layer": [
    {"mark": {"type": "rule", "strokeWidth": 2},
     "encoding": {"x": {"datum": 0, "type": "quantitative", "scale": {"domain": [0, 1], "range": [0, 43]}, "axis": null}, "x2": {"datum": 1},
       "y": {"field": "s", "type": "nominal", "scale": {"type": "point", "domain": ["+lipids", "-lipids", "-lipids + antimycin", "-lipids + antimycin + pyr", "-lipids + antimycin + lac"], "range": [62.5, 287.5], "padding": 0}, "axis": null},
       "color": {"field": "s", "type": "nominal", "scale": {"domain": ["+lipids", "-lipids", "-lipids + antimycin", "-lipids + antimycin + pyr", "-lipids + antimycin + lac"], "range": ["#2f64d6", "#d33434", "#2e7d3c", "#e2b400", "#000000"]}, "legend": null}}},
    {"mark": {"type": "point", "size": 170, "strokeWidth": 1.8, "opacity": 1},
     "encoding": {"x": {"datum": 0.5, "type": "quantitative", "scale": {"domain": [0, 1], "range": [0, 43]}},
       "y": {"field": "s", "type": "nominal", "scale": {"type": "point", "domain": ["+lipids", "-lipids", "-lipids + antimycin", "-lipids + antimycin + pyr", "-lipids + antimycin + lac"], "range": [62.5, 287.5], "padding": 0}},
       "fill": {"field": "s", "type": "nominal", "scale": {"domain": ["+lipids", "-lipids", "-lipids + antimycin", "-lipids + antimycin + pyr", "-lipids + antimycin + lac"], "range": ["#2f64d6", "#d33434", "#2e7d3c", "#e2b400", "#ffffff"]}, "legend": null},
       "stroke": {"field": "s", "type": "nominal", "scale": {"domain": ["+lipids", "-lipids", "-lipids + antimycin", "-lipids + antimycin + pyr", "-lipids + antimycin + lac"], "range": ["#2f64d6", "#d33434", "#2e7d3c", "#e2b400", "#000000"]}, "legend": null},
       "shape": {"field": "s", "type": "nominal", "scale": {"domain": ["+lipids", "-lipids", "-lipids + antimycin", "-lipids + antimycin + pyr", "-lipids + antimycin + lac"], "range": ["circle", "square", "triangle-up", "triangle-down", "circle"]}, "legend": null}}},
    {"mark": {"type": "text", "align": "left", "baseline": "middle", "fontSize": 31, "dx": 22.6, "color": "#111111"},
     "encoding": {"x": {"datum": 1, "type": "quantitative", "scale": {"domain": [0, 1], "range": [0, 43]}},
       "y": {"field": "s", "type": "nominal", "scale": {"type": "point", "domain": ["+lipids", "-lipids", "-lipids + antimycin", "-lipids + antimycin + pyr", "-lipids + antimycin + lac"], "range": [62.5, 287.5], "padding": 0}},
       "text": {"field": "s"}}}
  ]
},
{
  "width": 438.9, "height": 429.5,
  "title": {"text": "c", "anchor": "start", "frame": "group", "dx": -90, "offset": -51.6, "fontSize": 46, "fontWeight": "bold", "baseline": "alphabetic", "color": "#000000"},
  "layer": [
    {"data": {"name": "c_bars"}, "mark": {"type": "bar", "fill": "#ffffff", "stroke": "#111111", "strokeWidth": 2.5},
     "encoding": {
       "x": {"field": "grp", "type": "nominal", "scale": {"domain": ["+ - -", "- - -", "+ + -", "- + -", "- + P", "- + L"], "range": [36.6, 283.3], "paddingInner": 0.3846, "paddingOuter": 0.355, "align": 0.53},
             "axis": {"title": ["Lipids", "Antimycin A", "Rescue"], "labelExpr": "split(datum.label, ' ')", "labelAngle": 0, "labelFontSize": 30, "labelLineHeight": 34.5, "labelPadding": 11.3, "tickSize": 8, "titleX": 20.6, "titleY": 19.3, "titleAlign": "right", "titleBaseline": "top", "titleAngle": 0, "titleFontSize": 30, "titleLineHeight": 34.5}},
       "y": {"field": "mean", "type": "quantitative", "scale": {"domain": [0, 1.5], "range": [429.5, 17], "nice": false, "zero": false},
             "axis": {"offset": -36.6, "values": [0, 0.5, 1, 1.5], "format": ".1f", "labelFontSize": 28, "tickSize": 6, "labelPadding": 10, "title": ["Proliferation Rate", "(Doublings/day)"], "titleFontSize": 32, "titleLineHeight": 41, "titleX": -134.6, "titleY": 224.7, "titleBaseline": "middle", "titleAlign": "center", "titleAngle": -90}}}},
    {"data": {"name": "c_pts"}, "mark": {"type": "point", "size": 100, "strokeWidth": 2, "opacity": 1},
     "encoding": {
       "x": {"field": "grp", "type": "nominal", "scale": {"domain": ["+ - -", "- - -", "+ + -", "- + -", "- + P", "- + L"]}},
       "xOffset": {"field": "rep", "type": "nominal", "scale": {"domain": [1, 2, 3], "paddingInner": 0, "paddingOuter": 0}},
       "y": {"field": "v", "type": "quantitative", "scale": {"domain": [0, 1.5], "range": [429.5, 17], "nice": false, "zero": false}},
       "fill": {"field": "grp", "type": "nominal", "scale": {"domain": ["+ - -", "- - -", "+ + -", "- + -", "- + P", "- + L"], "range": ["#2f64d6", "#d33434", "#9a9a9a", "#2e7d3c", "#e2b400", "#ffffff"]}, "legend": null},
       "stroke": {"field": "grp", "type": "nominal", "scale": {"domain": ["+ - -", "- - -", "+ + -", "- + -", "- + P", "- + L"], "range": ["#2f64d6", "#d33434", "#9a9a9a", "#2e7d3c", "#e2b400", "#000000"]}, "legend": null},
       "shape": {"field": "grp", "type": "nominal", "scale": {"domain": ["+ - -", "- - -", "+ + -", "- + -", "- + P", "- + L"], "range": ["circle", "square", "triangle-up", "triangle-down", "diamond", "circle"]}, "legend": null}}},
    {"data": {"name": "c_bars"}, "mark": {"type": "rule", "color": "#111111", "strokeWidth": 2},
     "encoding": {"x": {"field": "grp", "type": "nominal", "scale": {"domain": ["+ - -", "- - -", "+ + -", "- + -", "- + P", "- + L"]}}, "y": {"field": "lo", "type": "quantitative", "scale": {"domain": [0, 1.5], "range": [429.5, 17], "nice": false, "zero": false}}, "y2": {"field": "hi"}}},
    {"data": {"name": "c_bars"}, "mark": {"type": "tick", "orient": "horizontal", "size": 14, "thickness": 2, "color": "#111111"},
     "encoding": {"x": {"field": "grp", "type": "nominal", "scale": {"domain": ["+ - -", "- - -", "+ + -", "- + -", "- + P", "- + L"]}}, "y": {"field": "lo", "type": "quantitative", "scale": {"domain": [0, 1.5], "range": [429.5, 17], "nice": false, "zero": false}}}},
    {"data": {"name": "c_bars"}, "mark": {"type": "tick", "orient": "horizontal", "size": 14, "thickness": 2, "color": "#111111"},
     "encoding": {"x": {"field": "grp", "type": "nominal", "scale": {"domain": ["+ - -", "- - -", "+ + -", "- + -", "- + P", "- + L"]}}, "y": {"field": "hi", "type": "quantitative", "scale": {"domain": [0, 1.5], "range": [429.5, 17], "nice": false, "zero": false}}}},
    {"data": {"name": "c_br"}, "mark": {"type": "rule", "color": "#333333", "strokeWidth": 2.2},
     "encoding": {"x": {"field": "from", "type": "nominal", "scale": {"domain": ["+ - -", "- - -", "+ + -", "- + -", "- + P", "- + L"]}}, "x2": {"field": "to"}, "y": {"field": "top", "type": "quantitative", "scale": {"domain": [0, 1.5], "range": [429.5, 17], "nice": false, "zero": false}}}},
    {"data": {"name": "c_br"}, "mark": {"type": "rule", "color": "#333333", "strokeWidth": 2.2},
     "encoding": {"x": {"field": "from", "type": "nominal", "scale": {"domain": ["+ - -", "- - -", "+ + -", "- + -", "- + P", "- + L"]}}, "y": {"field": "top", "type": "quantitative", "scale": {"domain": [0, 1.5], "range": [429.5, 17], "nice": false, "zero": false}}, "y2": {"field": "lf"}}},
    {"data": {"name": "c_br"}, "mark": {"type": "rule", "color": "#333333", "strokeWidth": 2.2},
     "encoding": {"x": {"field": "to", "type": "nominal", "scale": {"domain": ["+ - -", "- - -", "+ + -", "- + -", "- + P", "- + L"]}}, "y": {"field": "top", "type": "quantitative", "scale": {"domain": [0, 1.5], "range": [429.5, 17], "nice": false, "zero": false}}, "y2": {"field": "rf"}}},
    {"data": {"name": "c_br"}, "mark": {"type": "text", "fontSize": 22, "baseline": "alphabetic", "align": "center", "color": "#222222", "dx": {"expr": "datum.mid * 19.5"}, "dy": {"expr": "datum.lab == 'ns' ? -11 : -1"}},
     "encoding": {"x": {"field": "at", "type": "nominal", "scale": {"domain": ["+ - -", "- - -", "+ + -", "- + -", "- + P", "- + L"]}}, "y": {"field": "top", "type": "quantitative", "scale": {"domain": [0, 1.5], "range": [429.5, 17], "nice": false, "zero": false}}, "text": {"field": "lab"}}}
  ]
},
{
  "width": 376.4, "height": 457,
  "layer": [
    {"data": {"values": [{}]}, "mark": {"type": "rule", "strokeDash": [3.5, 4.5], "strokeWidth": 3, "color": "#222222"},
     "encoding": {"x": {"datum": -25.9, "type": "quantitative", "scale": {"domain": [0, 100], "range": [57.4, 279.4], "nice": false, "zero": false}}, "x2": {"datum": 100}, "y": {"datum": 1, "type": "quantitative", "scale": {"domain": [0, 25], "range": [399, 36], "nice": false, "zero": false}}}},
    {"data": {"name": "cl"}, "mark": {"type": "line", "strokeWidth": 2},
     "encoding": {
       "x": {"field": "h", "type": "quantitative", "scale": {"domain": [0, 100], "range": [57.4, 279.4], "nice": false, "zero": false},
             "axis": {"values": [0, 50, 100], "format": "d", "labelFontSize": 28, "tickSize": 16, "labelPadding": 10.6, "title": "Hours", "titleFontSize": 31, "titleX": 168.4, "titleY": 78.7, "titleBaseline": "top", "titleAlign": "center", "titleAngle": 0}},
       "y": {"field": "v", "type": "quantitative", "scale": {"domain": [0, 25], "range": [399, 36], "nice": false, "zero": false},
             "axis": {"values": [0, 5, 10, 15, 20, 25], "format": "d", "labelFontSize": 28, "tickSize": 14, "labelPadding": 4.6, "title": "Relative Cell Number", "titleFontSize": 32, "titleX": -89.6, "titleY": 217.5, "titleBaseline": "middle", "titleAlign": "center", "titleAngle": -90}},
       "color": {"field": "s", "type": "nominal", "scale": {"domain": ["+lipids", "-lipids", "-lipids + phen", "-lipids + phen + pyr", "-lipids + phen + lac"], "range": ["#2f64d6", "#d33434", "#2e7d3c", "#e2b400", "#000000"]}, "legend": null}}},
    {"data": {"name": "ce"}, "transform": [{"filter": "datum.s == '+lipids' || datum.s == '-lipids'"}], "mark": {"type": "rule", "color": "#111111", "strokeWidth": 2},
     "encoding": {"x": {"field": "h", "type": "quantitative", "scale": {"domain": [0, 100], "range": [57.4, 279.4], "nice": false, "zero": false}}, "y": {"field": "lo", "type": "quantitative", "scale": {"domain": [0, 25], "range": [399, 36], "nice": false, "zero": false}}, "y2": {"field": "hi"}}},
    {"data": {"name": "ce"}, "transform": [{"filter": "datum.s == '+lipids' || datum.s == '-lipids'"}], "mark": {"type": "tick", "orient": "horizontal", "size": 16, "thickness": 2, "color": "#111111"},
     "encoding": {"x": {"field": "h", "type": "quantitative", "scale": {"domain": [0, 100], "range": [57.4, 279.4], "nice": false, "zero": false}}, "y": {"field": "lo", "type": "quantitative", "scale": {"domain": [0, 25], "range": [399, 36], "nice": false, "zero": false}}}},
    {"data": {"name": "ce"}, "transform": [{"filter": "datum.s == '+lipids' || datum.s == '-lipids'"}], "mark": {"type": "tick", "orient": "horizontal", "size": 16, "thickness": 2, "color": "#111111"},
     "encoding": {"x": {"field": "h", "type": "quantitative", "scale": {"domain": [0, 100], "range": [57.4, 279.4], "nice": false, "zero": false}}, "y": {"field": "hi", "type": "quantitative", "scale": {"domain": [0, 25], "range": [399, 36], "nice": false, "zero": false}}}},
    {"data": {"name": "ce"}, "transform": [{"filter": "datum.s != '+lipids' && datum.s != '-lipids'"}], "mark": {"type": "rule", "strokeWidth": 2},
     "encoding": {"x": {"field": "h", "type": "quantitative", "scale": {"domain": [0, 100], "range": [57.4, 279.4], "nice": false, "zero": false}}, "y": {"field": "lo", "type": "quantitative", "scale": {"domain": [0, 25], "range": [399, 36], "nice": false, "zero": false}}, "y2": {"field": "hi"},
       "color": {"field": "s", "type": "nominal", "scale": {"domain": ["+lipids", "-lipids", "-lipids + phen", "-lipids + phen + pyr", "-lipids + phen + lac"], "range": ["#2f64d6", "#d33434", "#2e7d3c", "#e2b400", "#000000"]}, "legend": null}}},
    {"data": {"name": "ce"}, "transform": [{"filter": "datum.s != '+lipids' && datum.s != '-lipids'"}], "mark": {"type": "tick", "orient": "horizontal", "size": 16, "thickness": 2},
     "encoding": {"x": {"field": "h", "type": "quantitative", "scale": {"domain": [0, 100], "range": [57.4, 279.4], "nice": false, "zero": false}}, "y": {"field": "lo", "type": "quantitative", "scale": {"domain": [0, 25], "range": [399, 36], "nice": false, "zero": false}},
       "color": {"field": "s", "type": "nominal", "scale": {"domain": ["+lipids", "-lipids", "-lipids + phen", "-lipids + phen + pyr", "-lipids + phen + lac"], "range": ["#2f64d6", "#d33434", "#2e7d3c", "#e2b400", "#000000"]}, "legend": null}}},
    {"data": {"name": "ce"}, "transform": [{"filter": "datum.s != '+lipids' && datum.s != '-lipids'"}], "mark": {"type": "tick", "orient": "horizontal", "size": 16, "thickness": 2},
     "encoding": {"x": {"field": "h", "type": "quantitative", "scale": {"domain": [0, 100], "range": [57.4, 279.4], "nice": false, "zero": false}}, "y": {"field": "hi", "type": "quantitative", "scale": {"domain": [0, 25], "range": [399, 36], "nice": false, "zero": false}},
       "color": {"field": "s", "type": "nominal", "scale": {"domain": ["+lipids", "-lipids", "-lipids + phen", "-lipids + phen + pyr", "-lipids + phen + lac"], "range": ["#2f64d6", "#d33434", "#2e7d3c", "#e2b400", "#000000"]}, "legend": null}}},
    {"data": {"name": "cl"}, "mark": {"type": "point", "size": 170, "strokeWidth": 1.8, "opacity": 1},
     "encoding": {
       "x": {"field": "h", "type": "quantitative", "scale": {"domain": [0, 100], "range": [57.4, 279.4], "nice": false, "zero": false}},
       "y": {"field": "v", "type": "quantitative", "scale": {"domain": [0, 25], "range": [399, 36], "nice": false, "zero": false}},
       "fill": {"field": "s", "type": "nominal", "scale": {"domain": ["+lipids", "-lipids", "-lipids + phen", "-lipids + phen + pyr", "-lipids + phen + lac"], "range": ["#2f64d6", "#d33434", "#2e7d3c", "#e2b400", "#ffffff"]}, "legend": null},
       "stroke": {"field": "s", "type": "nominal", "scale": {"domain": ["+lipids", "-lipids", "-lipids + phen", "-lipids + phen + pyr", "-lipids + phen + lac"], "range": ["#2f64d6", "#d33434", "#2e7d3c", "#e2b400", "#000000"]}, "legend": null},
       "shape": {"field": "s", "type": "nominal", "scale": {"domain": ["+lipids", "-lipids", "-lipids + phen", "-lipids + phen + pyr", "-lipids + phen + lac"], "range": ["circle", "square", "triangle-up", "triangle-down", "circle"]}, "legend": null}}}
  ]
},
{
  "width": 445, "height": 320,
  "data": {"name": "legc"},
  "layer": [
    {"mark": {"type": "rule", "strokeWidth": 2},
     "encoding": {"x": {"datum": 0, "type": "quantitative", "scale": {"domain": [0, 1], "range": [0, 44]}, "axis": null}, "x2": {"datum": 1},
       "y": {"field": "s", "type": "nominal", "scale": {"type": "point", "domain": ["+lipids", "-lipids", "-lipids + phen", "-lipids + phen + pyr", "-lipids + phen + lac"], "range": [70.7, 305], "padding": 0}, "axis": null},
       "color": {"field": "s", "type": "nominal", "scale": {"domain": ["+lipids", "-lipids", "-lipids + phen", "-lipids + phen + pyr", "-lipids + phen + lac"], "range": ["#2f64d6", "#d33434", "#2e7d3c", "#e2b400", "#000000"]}, "legend": null}}},
    {"mark": {"type": "point", "size": 170, "strokeWidth": 1.8, "opacity": 1},
     "encoding": {"x": {"datum": 0.5, "type": "quantitative", "scale": {"domain": [0, 1], "range": [0, 44]}},
       "y": {"field": "s", "type": "nominal", "scale": {"type": "point", "domain": ["+lipids", "-lipids", "-lipids + phen", "-lipids + phen + pyr", "-lipids + phen + lac"], "range": [70.7, 305], "padding": 0}},
       "fill": {"field": "s", "type": "nominal", "scale": {"domain": ["+lipids", "-lipids", "-lipids + phen", "-lipids + phen + pyr", "-lipids + phen + lac"], "range": ["#2f64d6", "#d33434", "#2e7d3c", "#e2b400", "#ffffff"]}, "legend": null},
       "stroke": {"field": "s", "type": "nominal", "scale": {"domain": ["+lipids", "-lipids", "-lipids + phen", "-lipids + phen + pyr", "-lipids + phen + lac"], "range": ["#2f64d6", "#d33434", "#2e7d3c", "#e2b400", "#000000"]}, "legend": null},
       "shape": {"field": "s", "type": "nominal", "scale": {"domain": ["+lipids", "-lipids", "-lipids + phen", "-lipids + phen + pyr", "-lipids + phen + lac"], "range": ["circle", "square", "triangle-up", "triangle-down", "circle"]}, "legend": null}}},
    {"mark": {"type": "text", "align": "left", "baseline": "middle", "fontSize": 32, "dx": 28, "color": "#111111"},
     "encoding": {"x": {"datum": 1, "type": "quantitative", "scale": {"domain": [0, 1], "range": [0, 44]}},
       "y": {"field": "s", "type": "nominal", "scale": {"type": "point", "domain": ["+lipids", "-lipids", "-lipids + phen", "-lipids + phen + pyr", "-lipids + phen + lac"], "range": [70.7, 305], "padding": 0}},
       "text": {"field": "s"}}}
  ]
},
{
  "width": 1, "height": 1,
  "data": {"values": [{"k": 0}]},
  "mark": {"type": "point", "opacity": 0},
  "encoding": {}
},
{
  "width": 438.9, "height": 451.7,
  "title": {"text": "d", "anchor": "start", "frame": "group", "dx": -141.7, "offset": -55.2, "fontSize": 46, "fontWeight": "bold", "baseline": "alphabetic", "color": "#000000"},
  "layer": [
    {"data": {"name": "d_bars"}, "mark": {"type": "bar", "fill": "#ffffff", "stroke": "#111111", "strokeWidth": 2.5},
     "encoding": {
       "x": {"field": "grp", "type": "nominal", "scale": {"domain": ["+ - -", "- - -", "- + -", "- + P", "- + L"], "range": [0, 206.6], "paddingInner": 0.3872, "paddingOuter": 0.387, "align": 0.534},
             "axis": {"title": ["Lipids", "Phenformin", "Rescue"], "labelExpr": "split(datum.label, ' ')", "labelAngle": 0, "labelFontSize": 30, "labelLineHeight": 34, "labelPadding": 12.1, "tickSize": 8, "titleX": -16.7, "titleY": 20.1, "titleAlign": "right", "titleBaseline": "top", "titleAngle": 0, "titleFontSize": 30, "titleLineHeight": 34}},
       "y": {"field": "mean", "type": "quantitative", "scale": {"domain": [0, 2], "range": [451.7, 41], "nice": false, "zero": false},
             "axis": {"values": [0, 0.5, 1, 1.5, 2], "format": ".1f", "labelFontSize": 28, "tickSize": 6, "labelPadding": 9, "title": ["Relative", "NAD+/NADH"], "titleFontSize": 32, "titleLineHeight": 40, "titleX": -138.7, "titleY": 247, "titleBaseline": "middle", "titleAlign": "center", "titleAngle": -90}}}},
    {"data": {"name": "d_pts"}, "mark": {"type": "point", "size": 100, "strokeWidth": 2, "opacity": 1},
     "encoding": {
       "x": {"field": "grp", "type": "nominal", "scale": {"domain": ["+ - -", "- - -", "- + -", "- + P", "- + L"]}},
       "xOffset": {"field": "rep", "type": "nominal", "scale": {"domain": [1, 2, 3], "paddingInner": 0, "paddingOuter": 0}},
       "y": {"field": "v", "type": "quantitative", "scale": {"domain": [0, 2], "range": [451.7, 41], "nice": false, "zero": false}},
       "fill": {"field": "grp", "type": "nominal", "scale": {"domain": ["+ - -", "- - -", "- + -", "- + P", "- + L"], "range": ["#2f64d6", "#d33434", "#2e7d3c", "#e2b400", "#ffffff"]}, "legend": null},
       "stroke": {"field": "grp", "type": "nominal", "scale": {"domain": ["+ - -", "- - -", "- + -", "- + P", "- + L"], "range": ["#2f64d6", "#d33434", "#2e7d3c", "#e2b400", "#000000"]}, "legend": null},
       "shape": {"field": "grp", "type": "nominal", "scale": {"domain": ["+ - -", "- - -", "- + -", "- + P", "- + L"], "range": ["circle", "square", "triangle-down", "diamond", "circle"]}, "legend": null}}},
    {"data": {"name": "d_bars"}, "mark": {"type": "rule", "color": "#111111", "strokeWidth": 2},
     "encoding": {"x": {"field": "grp", "type": "nominal", "scale": {"domain": ["+ - -", "- - -", "- + -", "- + P", "- + L"]}}, "y": {"field": "lo", "type": "quantitative", "scale": {"domain": [0, 2], "range": [451.7, 41], "nice": false, "zero": false}}, "y2": {"field": "hi"}}},
    {"data": {"name": "d_bars"}, "mark": {"type": "tick", "orient": "horizontal", "size": 14, "thickness": 2, "color": "#111111"},
     "encoding": {"x": {"field": "grp", "type": "nominal", "scale": {"domain": ["+ - -", "- - -", "- + -", "- + P", "- + L"]}}, "y": {"field": "lo", "type": "quantitative", "scale": {"domain": [0, 2], "range": [451.7, 41], "nice": false, "zero": false}}}},
    {"data": {"name": "d_bars"}, "mark": {"type": "tick", "orient": "horizontal", "size": 14, "thickness": 2, "color": "#111111"},
     "encoding": {"x": {"field": "grp", "type": "nominal", "scale": {"domain": ["+ - -", "- - -", "- + -", "- + P", "- + L"]}}, "y": {"field": "hi", "type": "quantitative", "scale": {"domain": [0, 2], "range": [451.7, 41], "nice": false, "zero": false}}}},
    {"data": {"name": "d_br"}, "mark": {"type": "rule", "color": "#333333", "strokeWidth": 2.2},
     "encoding": {"x": {"field": "from", "type": "nominal", "scale": {"domain": ["+ - -", "- - -", "- + -", "- + P", "- + L"]}}, "x2": {"field": "to"}, "y": {"field": "top", "type": "quantitative", "scale": {"domain": [0, 2], "range": [451.7, 41], "nice": false, "zero": false}}}},
    {"data": {"name": "d_br"}, "mark": {"type": "rule", "color": "#333333", "strokeWidth": 2.2},
     "encoding": {"x": {"field": "from", "type": "nominal", "scale": {"domain": ["+ - -", "- - -", "- + -", "- + P", "- + L"]}}, "y": {"field": "top", "type": "quantitative", "scale": {"domain": [0, 2], "range": [451.7, 41], "nice": false, "zero": false}}, "y2": {"field": "lf"}}},
    {"data": {"name": "d_br"}, "mark": {"type": "rule", "color": "#333333", "strokeWidth": 2.2},
     "encoding": {"x": {"field": "to", "type": "nominal", "scale": {"domain": ["+ - -", "- - -", "- + -", "- + P", "- + L"]}}, "y": {"field": "top", "type": "quantitative", "scale": {"domain": [0, 2], "range": [451.7, 41], "nice": false, "zero": false}}, "y2": {"field": "rf"}}},
    {"data": {"name": "d_br"}, "mark": {"type": "text", "fontSize": 22, "baseline": "alphabetic", "align": "center", "color": "#222222", "dx": {"expr": "datum.mid * 19.2"}, "dy": {"expr": "datum.lab == 'ns' ? -11 : -1"}},
     "encoding": {"x": {"field": "at", "type": "nominal", "scale": {"domain": ["+ - -", "- - -", "- + -", "- + P", "- + L"]}}, "y": {"field": "top", "type": "quantitative", "scale": {"domain": [0, 2], "range": [451.7, 41], "nice": false, "zero": false}}, "text": {"field": "lab"}}}
  ]
},
{
  "width": 376.4, "height": 451.7,
  "title": {"text": "e", "anchor": "start", "frame": "group", "dx": -121.3, "offset": -53.4, "fontSize": 46, "fontWeight": "bold", "baseline": "alphabetic", "color": "#000000"},
  "layer": [
    {"data": {"name": "e_bars"}, "mark": {"type": "bar", "fill": "#ffffff", "stroke": "#111111", "strokeWidth": 2.5},
     "encoding": {
       "x": {"field": "grp", "type": "nominal", "scale": {"domain": ["- - -", "- + -", "- + P", "- + L"], "range": [30.1, 196.7], "paddingInner": 0.3832, "paddingOuter": 0.378, "align": 0.55},
             "axis": {"title": ["Lipids", "Phenformin", "Rescue"], "labelExpr": "split(datum.label, ' ')", "labelAngle": 0, "labelFontSize": 30, "labelLineHeight": 34, "labelPadding": 12.1, "tickSize": 8, "titleX": 14.4, "titleY": 20.1, "titleAlign": "right", "titleBaseline": "top", "titleAngle": 0, "titleFontSize": 30, "titleLineHeight": 34}},
       "y": {"field": "mean", "type": "quantitative", "scale": {"domain": [0, 2], "range": [451.7, 41], "nice": false, "zero": false},
             "axis": {"offset": -30.1, "values": [0, 0.5, 1, 1.5, 2], "format": ".1f", "labelFontSize": 28, "tickSize": 6, "labelPadding": 8, "title": "Relative Citrate Levels", "titleFontSize": 32, "titleX": -82.7, "titleY": 246.6, "titleBaseline": "middle", "titleAlign": "center", "titleAngle": -90}}}},
    {"data": {"name": "e_pts"}, "mark": {"type": "point", "size": 100, "strokeWidth": 2, "opacity": 1},
     "encoding": {
       "x": {"field": "grp", "type": "nominal", "scale": {"domain": ["- - -", "- + -", "- + P", "- + L"]}},
       "xOffset": {"field": "rep", "type": "nominal", "scale": {"domain": [1, 2, 3, 4, 5, 6], "paddingInner": 0, "paddingOuter": 0}},
       "y": {"field": "v", "type": "quantitative", "scale": {"domain": [0, 2], "range": [451.7, 41], "nice": false, "zero": false}},
       "fill": {"field": "grp", "type": "nominal", "scale": {"domain": ["- - -", "- + -", "- + P", "- + L"], "range": ["#d33434", "#2e7d3c", "#e2b400", "#ffffff"]}, "legend": null},
       "stroke": {"field": "grp", "type": "nominal", "scale": {"domain": ["- - -", "- + -", "- + P", "- + L"], "range": ["#d33434", "#2e7d3c", "#e2b400", "#000000"]}, "legend": null},
       "shape": {"field": "grp", "type": "nominal", "scale": {"domain": ["- - -", "- + -", "- + P", "- + L"], "range": ["square", "triangle-down", "diamond", "circle"]}, "legend": null}}},
    {"data": {"name": "e_bars"}, "mark": {"type": "rule", "color": "#111111", "strokeWidth": 2},
     "encoding": {"x": {"field": "grp", "type": "nominal", "scale": {"domain": ["- - -", "- + -", "- + P", "- + L"]}}, "y": {"field": "lo", "type": "quantitative", "scale": {"domain": [0, 2], "range": [451.7, 41], "nice": false, "zero": false}}, "y2": {"field": "hi"}}},
    {"data": {"name": "e_bars"}, "mark": {"type": "tick", "orient": "horizontal", "size": 14, "thickness": 2, "color": "#111111"},
     "encoding": {"x": {"field": "grp", "type": "nominal", "scale": {"domain": ["- - -", "- + -", "- + P", "- + L"]}}, "y": {"field": "lo", "type": "quantitative", "scale": {"domain": [0, 2], "range": [451.7, 41], "nice": false, "zero": false}}}},
    {"data": {"name": "e_bars"}, "mark": {"type": "tick", "orient": "horizontal", "size": 14, "thickness": 2, "color": "#111111"},
     "encoding": {"x": {"field": "grp", "type": "nominal", "scale": {"domain": ["- - -", "- + -", "- + P", "- + L"]}}, "y": {"field": "hi", "type": "quantitative", "scale": {"domain": [0, 2], "range": [451.7, 41], "nice": false, "zero": false}}}},
    {"data": {"name": "e_br"}, "mark": {"type": "rule", "color": "#333333", "strokeWidth": 2.2},
     "encoding": {"x": {"field": "from", "type": "nominal", "scale": {"domain": ["- - -", "- + -", "- + P", "- + L"]}}, "x2": {"field": "to"}, "y": {"field": "top", "type": "quantitative", "scale": {"domain": [0, 2], "range": [451.7, 41], "nice": false, "zero": false}}}},
    {"data": {"name": "e_br"}, "mark": {"type": "rule", "color": "#333333", "strokeWidth": 2.2},
     "encoding": {"x": {"field": "from", "type": "nominal", "scale": {"domain": ["- - -", "- + -", "- + P", "- + L"]}}, "y": {"field": "top", "type": "quantitative", "scale": {"domain": [0, 2], "range": [451.7, 41], "nice": false, "zero": false}}, "y2": {"field": "lf"}}},
    {"data": {"name": "e_br"}, "mark": {"type": "rule", "color": "#333333", "strokeWidth": 2.2},
     "encoding": {"x": {"field": "to", "type": "nominal", "scale": {"domain": ["- - -", "- + -", "- + P", "- + L"]}}, "y": {"field": "top", "type": "quantitative", "scale": {"domain": [0, 2], "range": [451.7, 41], "nice": false, "zero": false}}, "y2": {"field": "rf"}}},
    {"data": {"name": "e_br"}, "mark": {"type": "text", "fontSize": 22, "baseline": "alphabetic", "align": "center", "color": "#222222", "dx": {"expr": "datum.mid * 19"}, "dy": {"expr": "datum.lab == 'ns' ? -11 : -1"}},
     "encoding": {"x": {"field": "at", "type": "nominal", "scale": {"domain": ["- - -", "- + -", "- + P", "- + L"]}}, "y": {"field": "top", "type": "quantitative", "scale": {"domain": [0, 2], "range": [451.7, 41], "nice": false, "zero": false}}, "text": {"field": "lab"}}}
  ]
},
{
  "width": 445, "height": 451.7,
  "title": {"text": "f", "anchor": "start", "frame": "group", "dx": -102, "offset": -61.6, "fontSize": 46, "fontWeight": "bold", "baseline": "alphabetic", "color": "#000000"},
  "layer": [
    {"data": {"name": "f_bars"}, "mark": {"type": "bar", "fill": "#ffffff", "stroke": "#111111", "strokeWidth": 2.5},
     "encoding": {
       "x": {"field": "grp", "type": "nominal", "scale": {"domain": ["+ - -", "- - -", "- + -", "- + P", "- + L"], "range": [62.3, 269], "paddingInner": 0.3864, "paddingOuter": 0.3917, "align": 0.52},
             "axis": {"title": ["Lipids", "Phenformin", "Rescue"], "labelExpr": "split(datum.label, ' ')", "labelAngle": 0, "labelFontSize": 30, "labelLineHeight": 34, "labelPadding": 12.1, "tickSize": 8, "titleX": 44.7, "titleY": 20.1, "titleAlign": "right", "titleBaseline": "top", "titleAngle": 0, "titleFontSize": 30, "titleLineHeight": 34}},
       "y": {"field": "mean", "type": "quantitative", "scale": {"domain": [0.5, 1.5], "range": [451.7, 41], "nice": false, "zero": false},
             "axis": {"offset": -62.3, "values": [0.5, 1, 1.5], "format": ".1f", "labelFontSize": 28, "tickSize": 6, "labelPadding": 10, "title": ["Relative Palmitate", "Synthesis Rate"], "titleFontSize": 32, "titleLineHeight": 41.6, "titleX": -127.6, "titleY": 246, "titleBaseline": "middle", "titleAlign": "center", "titleAngle": -90}},
       "y2": {"datum": 0.5}}},
    {"data": {"name": "f_pts"}, "mark": {"type": "point", "size": 100, "strokeWidth": 2, "opacity": 1},
     "encoding": {
       "x": {"field": "grp", "type": "nominal", "scale": {"domain": ["+ - -", "- - -", "- + -", "- + P", "- + L"]}},
       "xOffset": {"field": "rep", "type": "nominal", "scale": {"domain": [1, 2, 3], "paddingInner": 0, "paddingOuter": 0}},
       "y": {"field": "v", "type": "quantitative", "scale": {"domain": [0.5, 1.5], "range": [451.7, 41], "nice": false, "zero": false}},
       "fill": {"field": "grp", "type": "nominal", "scale": {"domain": ["+ - -", "- - -", "- + -", "- + P", "- + L"], "range": ["#2f64d6", "#d33434", "#2e7d3c", "#e2b400", "#ffffff"]}, "legend": null},
       "stroke": {"field": "grp", "type": "nominal", "scale": {"domain": ["+ - -", "- - -", "- + -", "- + P", "- + L"], "range": ["#2f64d6", "#d33434", "#2e7d3c", "#e2b400", "#000000"]}, "legend": null},
       "shape": {"field": "grp", "type": "nominal", "scale": {"domain": ["+ - -", "- - -", "- + -", "- + P", "- + L"], "range": ["circle", "square", "triangle-down", "diamond", "circle"]}, "legend": null}}},
    {"data": {"name": "f_bars"}, "mark": {"type": "rule", "color": "#111111", "strokeWidth": 2},
     "encoding": {"x": {"field": "grp", "type": "nominal", "scale": {"domain": ["+ - -", "- - -", "- + -", "- + P", "- + L"]}}, "y": {"field": "lo", "type": "quantitative", "scale": {"domain": [0.5, 1.5], "range": [451.7, 41], "nice": false, "zero": false}}, "y2": {"field": "hi"}}},
    {"data": {"name": "f_bars"}, "mark": {"type": "tick", "orient": "horizontal", "size": 14, "thickness": 2, "color": "#111111"},
     "encoding": {"x": {"field": "grp", "type": "nominal", "scale": {"domain": ["+ - -", "- - -", "- + -", "- + P", "- + L"]}}, "y": {"field": "lo", "type": "quantitative", "scale": {"domain": [0.5, 1.5], "range": [451.7, 41], "nice": false, "zero": false}}}},
    {"data": {"name": "f_bars"}, "mark": {"type": "tick", "orient": "horizontal", "size": 14, "thickness": 2, "color": "#111111"},
     "encoding": {"x": {"field": "grp", "type": "nominal", "scale": {"domain": ["+ - -", "- - -", "- + -", "- + P", "- + L"]}}, "y": {"field": "hi", "type": "quantitative", "scale": {"domain": [0.5, 1.5], "range": [451.7, 41], "nice": false, "zero": false}}}},
    {"data": {"name": "f_br"}, "mark": {"type": "rule", "color": "#333333", "strokeWidth": 2.2},
     "encoding": {"x": {"field": "from", "type": "nominal", "scale": {"domain": ["+ - -", "- - -", "- + -", "- + P", "- + L"]}}, "x2": {"field": "to"}, "y": {"field": "top", "type": "quantitative", "scale": {"domain": [0.5, 1.5], "range": [451.7, 41], "nice": false, "zero": false}}}},
    {"data": {"name": "f_br"}, "mark": {"type": "rule", "color": "#333333", "strokeWidth": 2.2},
     "encoding": {"x": {"field": "from", "type": "nominal", "scale": {"domain": ["+ - -", "- - -", "- + -", "- + P", "- + L"]}}, "y": {"field": "top", "type": "quantitative", "scale": {"domain": [0.5, 1.5], "range": [451.7, 41], "nice": false, "zero": false}}, "y2": {"field": "lf"}}},
    {"data": {"name": "f_br"}, "mark": {"type": "rule", "color": "#333333", "strokeWidth": 2.2},
     "encoding": {"x": {"field": "to", "type": "nominal", "scale": {"domain": ["+ - -", "- - -", "- + -", "- + P", "- + L"]}}, "y": {"field": "top", "type": "quantitative", "scale": {"domain": [0.5, 1.5], "range": [451.7, 41], "nice": false, "zero": false}}, "y2": {"field": "rf"}}},
    {"data": {"name": "f_br"}, "mark": {"type": "text", "fontSize": 22, "baseline": "alphabetic", "align": "center", "color": "#222222", "dx": {"expr": "datum.mid * 19.2"}, "dy": {"expr": "datum.lab == 'ns' ? -11 : -1"}},
     "encoding": {"x": {"field": "at", "type": "nominal", "scale": {"domain": ["+ - -", "- - -", "- + -", "- + P", "- + L"]}}, "y": {"field": "top", "type": "quantitative", "scale": {"domain": [0.5, 1.5], "range": [451.7, 41], "nice": false, "zero": false}}, "text": {"field": "lab"}}}
  ]
},
{
  "width": 400, "height": 451.7,
  "title": {"text": "g", "anchor": "start", "frame": "group", "dx": -98.7, "offset": -58, "fontSize": 46, "fontWeight": "bold", "baseline": "alphabetic", "color": "#000000"},
  "layer": [
    {"data": {"name": "g_bars"}, "mark": {"type": "bar", "fill": "#ffffff", "stroke": "#111111", "strokeWidth": 2.5},
     "encoding": {
       "x": {"field": "grp", "type": "nominal", "scale": {"domain": ["- - -", "- + -", "- + P", "- + L"], "range": [61.3, 224], "paddingInner": 0.38, "paddingOuter": 0.3365, "align": 0.48},
             "axis": {"title": ["Lipids", "Phenformin", "Rescue"], "labelExpr": "split(datum.label, ' ')", "labelAngle": 0, "labelFontSize": 30, "labelLineHeight": 34, "labelPadding": 12.1, "tickSize": 8, "titleX": 41.3, "titleY": 20.1, "titleAlign": "right", "titleBaseline": "top", "titleAngle": 0, "titleFontSize": 30, "titleLineHeight": 34}},
       "y": {"field": "mean", "type": "quantitative", "scale": {"domain": [0, 2, 3, 15], "range": [451.7, 266, 229, 42.8], "nice": false, "zero": false},
             "axis": {"offset": -61.3, "domain": false, "values": [0, 1, 2, 3, 9, 15], "format": "d", "labelFontSize": 28, "tickSize": 6, "labelPadding": 10.6, "title": "Relative Pyruvate Levels", "titleFontSize": 32, "titleX": -71.6, "titleY": 246, "titleBaseline": "middle", "titleAlign": "center", "titleAngle": -90}}}},
    {"data": {"name": "g_bars"}, "transform": [{"filter": "datum.grp == '- + P'"}], "mark": {"type": "bar", "fill": "#ffffff", "stroke": "#ffffff", "strokeWidth": 4},
     "encoding": {"x": {"field": "grp", "type": "nominal", "scale": {"domain": ["- - -", "- + -", "- + P", "- + L"]}}, "y": {"datum": 2, "type": "quantitative", "scale": {"domain": [0, 2, 3, 15], "range": [451.7, 266, 229, 42.8], "nice": false, "zero": false}}, "y2": {"datum": 3}}},
    {"data": {"values": [{}]}, "mark": {"type": "rule", "strokeWidth": 3.5, "color": "#222222"},
     "encoding": {"x": {"value": 61.3}, "y": {"datum": 0, "type": "quantitative", "scale": {"domain": [0, 2, 3, 15], "range": [451.7, 266, 229, 42.8], "nice": false, "zero": false}}, "y2": {"datum": 2}}},
    {"data": {"values": [{}]}, "mark": {"type": "rule", "strokeWidth": 3.5, "color": "#222222"},
     "encoding": {"x": {"value": 61.3}, "y": {"datum": 3, "type": "quantitative", "scale": {"domain": [0, 2, 3, 15], "range": [451.7, 266, 229, 42.8], "nice": false, "zero": false}}, "y2": {"datum": 15}}},
    {"data": {"values": [{}]}, "mark": {"type": "rule", "strokeWidth": 3, "color": "#222222"},
     "encoding": {"x": {"value": 61.3}, "x2": {"value": 72.3}, "y": {"datum": 2, "type": "quantitative", "scale": {"domain": [0, 2, 3, 15], "range": [451.7, 266, 229, 42.8], "nice": false, "zero": false}}}},
    {"data": {"values": [{}]}, "mark": {"type": "rule", "strokeWidth": 3, "color": "#222222"},
     "encoding": {"x": {"value": 61.3}, "x2": {"value": 72.3}, "y": {"datum": 3, "type": "quantitative", "scale": {"domain": [0, 2, 3, 15], "range": [451.7, 266, 229, 42.8], "nice": false, "zero": false}}}},
    {"data": {"name": "g_pts"}, "mark": {"type": "point", "size": 90, "strokeWidth": 2, "opacity": 1},
     "encoding": {
       "x": {"field": "grp", "type": "nominal", "scale": {"domain": ["- - -", "- + -", "- + P", "- + L"]}},
       "xOffset": {"field": "rep", "type": "nominal", "scale": {"domain": [1, 2, 3, 4, 5, 6, 7, 8, 9, 10, 11, 12], "paddingInner": 0, "paddingOuter": 0}},
       "y": {"field": "v", "type": "quantitative", "scale": {"domain": [0, 2, 3, 15], "range": [451.7, 266, 229, 42.8], "nice": false, "zero": false}},
       "fill": {"field": "grp", "type": "nominal", "scale": {"domain": ["- - -", "- + -", "- + P", "- + L"], "range": ["#d33434", "#2e7d3c", "#e2b400", "#ffffff"]}, "legend": null},
       "stroke": {"field": "grp", "type": "nominal", "scale": {"domain": ["- - -", "- + -", "- + P", "- + L"], "range": ["#d33434", "#2e7d3c", "#e2b400", "#000000"]}, "legend": null},
       "shape": {"field": "grp", "type": "nominal", "scale": {"domain": ["- - -", "- + -", "- + P", "- + L"], "range": ["square", "triangle-down", "diamond", "circle"]}, "legend": null}}},
    {"data": {"name": "g_bars"}, "mark": {"type": "rule", "color": "#111111", "strokeWidth": 2},
     "encoding": {"x": {"field": "grp", "type": "nominal", "scale": {"domain": ["- - -", "- + -", "- + P", "- + L"]}}, "y": {"field": "lo", "type": "quantitative", "scale": {"domain": [0, 2, 3, 15], "range": [451.7, 266, 229, 42.8], "nice": false, "zero": false}}, "y2": {"field": "hi"}}},
    {"data": {"name": "g_bars"}, "mark": {"type": "tick", "orient": "horizontal", "size": 14, "thickness": 2, "color": "#111111"},
     "encoding": {"x": {"field": "grp", "type": "nominal", "scale": {"domain": ["- - -", "- + -", "- + P", "- + L"]}}, "y": {"field": "lo", "type": "quantitative", "scale": {"domain": [0, 2, 3, 15], "range": [451.7, 266, 229, 42.8], "nice": false, "zero": false}}}},
    {"data": {"name": "g_bars"}, "mark": {"type": "tick", "orient": "horizontal", "size": 14, "thickness": 2, "color": "#111111"},
     "encoding": {"x": {"field": "grp", "type": "nominal", "scale": {"domain": ["- - -", "- + -", "- + P", "- + L"]}}, "y": {"field": "hi", "type": "quantitative", "scale": {"domain": [0, 2, 3, 15], "range": [451.7, 266, 229, 42.8], "nice": false, "zero": false}}}},
    {"data": {"name": "g_br"}, "mark": {"type": "rule", "color": "#333333", "strokeWidth": 2.2},
     "encoding": {"x": {"field": "from", "type": "nominal", "scale": {"domain": ["- - -", "- + -", "- + P", "- + L"]}}, "x2": {"field": "to"}, "y": {"field": "top", "type": "quantitative", "scale": {"domain": [0, 2, 3, 15], "range": [451.7, 266, 229, 42.8], "nice": false, "zero": false}}}},
    {"data": {"name": "g_br"}, "mark": {"type": "rule", "color": "#333333", "strokeWidth": 2.2},
     "encoding": {"x": {"field": "from", "type": "nominal", "scale": {"domain": ["- - -", "- + -", "- + P", "- + L"]}}, "y": {"field": "top", "type": "quantitative", "scale": {"domain": [0, 2, 3, 15], "range": [451.7, 266, 229, 42.8], "nice": false, "zero": false}}, "y2": {"field": "lf"}}},
    {"data": {"name": "g_br"}, "mark": {"type": "rule", "color": "#333333", "strokeWidth": 2.2},
     "encoding": {"x": {"field": "to", "type": "nominal", "scale": {"domain": ["- - -", "- + -", "- + P", "- + L"]}}, "y": {"field": "top", "type": "quantitative", "scale": {"domain": [0, 2, 3, 15], "range": [451.7, 266, 229, 42.8], "nice": false, "zero": false}}, "y2": {"field": "rf"}}},
    {"data": {"name": "g_br"}, "mark": {"type": "text", "fontSize": 22, "baseline": "alphabetic", "align": "center", "color": "#222222", "dx": {"expr": "datum.mid * 19"}, "dy": {"expr": "datum.lab == 'ns' ? -11 : -1"}},
     "encoding": {"x": {"field": "at", "type": "nominal", "scale": {"domain": ["- - -", "- + -", "- + P", "- + L"]}}, "y": {"field": "top", "type": "quantitative", "scale": {"domain": [0, 2, 3, 15], "range": [451.7, 266, 229, 42.8], "nice": false, "zero": false}}, "text": {"field": "lab"}}}
  ]
}
]
}
